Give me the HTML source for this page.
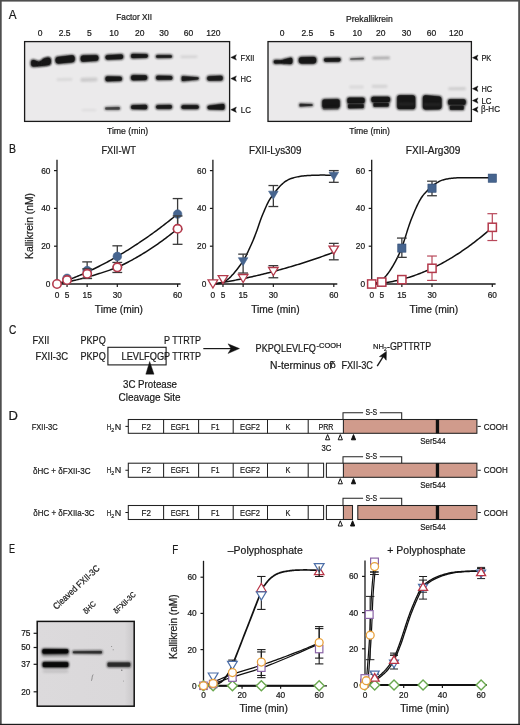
<!DOCTYPE html><html><head><meta charset="utf-8"><style>html,body{margin:0;padding:0;background:#fff;overflow:hidden}svg{display:block;will-change:transform}text{font-family:"Liberation Sans",sans-serif}</style></head><body><svg width="520" height="725" viewBox="0 0 520 725" font-family="Liberation Sans, sans-serif"><defs><filter id="b4" filterUnits="userSpaceOnUse" x="0" y="0" width="520" height="725"><feGaussianBlur stdDeviation="0.4"/></filter><filter id="b5" filterUnits="userSpaceOnUse" x="0" y="0" width="520" height="725"><feGaussianBlur stdDeviation="0.5"/></filter><filter id="b6" filterUnits="userSpaceOnUse" x="0" y="0" width="520" height="725"><feGaussianBlur stdDeviation="0.6"/></filter><filter id="b7" filterUnits="userSpaceOnUse" x="0" y="0" width="520" height="725"><feGaussianBlur stdDeviation="0.7"/></filter><filter id="b8" filterUnits="userSpaceOnUse" x="0" y="0" width="520" height="725"><feGaussianBlur stdDeviation="0.8"/></filter><filter id="b9" filterUnits="userSpaceOnUse" x="0" y="0" width="520" height="725"><feGaussianBlur stdDeviation="0.9"/></filter><filter id="b10" filterUnits="userSpaceOnUse" x="0" y="0" width="520" height="725"><feGaussianBlur stdDeviation="1.0"/></filter><filter id="b12" filterUnits="userSpaceOnUse" x="0" y="0" width="520" height="725"><feGaussianBlur stdDeviation="1.2"/></filter></defs><rect x="0.00" y="0.00" width="520.00" height="725.00" fill="#ffffff" stroke="none" stroke-width="1"/>
<text x="8.70" y="18.60" font-size="13.2" textLength="7.80" lengthAdjust="spacingAndGlyphs" fill="#1a1a1a" stroke="#1a1a1a" stroke-width="0.22">A</text>
<rect x="24.60" y="41.60" width="205.00" height="79.80" fill="#ebeaeb" stroke="#1a1a1a" stroke-width="1.3"/>
<text x="116.30" y="19.90" font-size="9.0" textLength="35.80" lengthAdjust="spacingAndGlyphs" fill="#1a1a1a" stroke="#1a1a1a" stroke-width="0.22">Factor XII</text>
<text x="40.00" y="36.40" font-size="8.5" text-anchor="middle" fill="#1a1a1a" stroke="#1a1a1a" stroke-width="0.22">0</text>
<text x="64.60" y="36.40" font-size="8.5" text-anchor="middle" fill="#1a1a1a" stroke="#1a1a1a" stroke-width="0.22">2.5</text>
<text x="89.30" y="36.40" font-size="8.5" text-anchor="middle" fill="#1a1a1a" stroke="#1a1a1a" stroke-width="0.22">5</text>
<text x="114.00" y="36.40" font-size="8.5" text-anchor="middle" fill="#1a1a1a" stroke="#1a1a1a" stroke-width="0.22">10</text>
<text x="139.80" y="36.40" font-size="8.5" text-anchor="middle" fill="#1a1a1a" stroke="#1a1a1a" stroke-width="0.22">20</text>
<text x="164.00" y="36.40" font-size="8.5" text-anchor="middle" fill="#1a1a1a" stroke="#1a1a1a" stroke-width="0.22">30</text>
<text x="188.50" y="36.40" font-size="8.5" text-anchor="middle" fill="#1a1a1a" stroke="#1a1a1a" stroke-width="0.22">60</text>
<text x="213.40" y="36.40" font-size="8.5" text-anchor="middle" fill="#1a1a1a" stroke="#1a1a1a" stroke-width="0.22">120</text>
<path d="M33.30,62.10 L37.70,63.70 L37.70,64.10 L33.30,64.40 Z" fill="#161616" stroke="#161616" stroke-width="5.70" stroke-linejoin="round" opacity="1.000" filter="url(#b8)"/>
<path d="M33.30,62.10 L37.70,63.70 L37.70,64.10 L33.30,64.40 Z" fill="#161616" stroke="#161616" stroke-width="4.30" stroke-linejoin="round" opacity="0.850"/>
<path d="M40.45,63.25 L48.35,59.85 L48.35,62.75 L40.45,64.15 Z" fill="#161616" stroke="#161616" stroke-width="5.20" stroke-linejoin="round" opacity="1.000" filter="url(#b8)"/>
<path d="M40.45,63.25 L48.35,59.85 L48.35,62.75 L40.45,64.15 Z" fill="#161616" stroke="#161616" stroke-width="3.80" stroke-linejoin="round" opacity="0.850"/>
<path d="M44.50,60.90 L48.10,60.10 L48.10,62.50 L44.50,62.90 Z" fill="#161616" stroke="#161616" stroke-width="5.70" stroke-linejoin="round" opacity="1.000" filter="url(#b8)"/>
<path d="M44.50,60.90 L48.10,60.10 L48.10,62.50 L44.50,62.90 Z" fill="#161616" stroke="#161616" stroke-width="4.30" stroke-linejoin="round" opacity="0.850"/>
<path d="M58.26,59.66 L71.94,58.06 L71.94,59.54 L58.26,60.74 Z" fill="#161616" stroke="#161616" stroke-width="6.82" stroke-linejoin="round" opacity="1.000" filter="url(#b8)"/>
<path d="M58.26,59.66 L71.94,58.06 L71.94,59.54 L58.26,60.74 Z" fill="#161616" stroke="#161616" stroke-width="5.42" stroke-linejoin="round" opacity="0.850"/>
<path d="M83.12,57.92 L95.98,57.52 L95.98,58.48 L83.12,59.28 Z" fill="#161616" stroke="#161616" stroke-width="6.14" stroke-linejoin="round" opacity="1.000" filter="url(#b8)"/>
<path d="M83.12,57.92 L95.98,57.52 L95.98,58.48 L83.12,59.28 Z" fill="#161616" stroke="#161616" stroke-width="4.74" stroke-linejoin="round" opacity="0.850"/>
<path d="M107.33,56.92 L121.28,56.33 L121.28,57.27 L107.33,57.67 Z" fill="#161616" stroke="#161616" stroke-width="4.95" stroke-linejoin="round" opacity="1.000" filter="url(#b8)"/>
<path d="M107.33,56.92 L121.28,56.33 L121.28,57.27 L107.33,57.67 Z" fill="#161616" stroke="#161616" stroke-width="3.55" stroke-linejoin="round" opacity="0.850"/>
<path d="M132.59,55.38 L146.31,55.58 L146.31,56.22 L132.59,56.62 Z" fill="#161616" stroke="#161616" stroke-width="4.27" stroke-linejoin="round" opacity="1.000" filter="url(#b8)"/>
<path d="M132.59,55.39 L146.31,55.59 L146.31,56.21 L132.59,56.61 Z" fill="#161616" stroke="#161616" stroke-width="2.87" stroke-linejoin="round" opacity="0.850"/>
<path d="M157.16,56.16 L170.84,56.16 L170.84,56.64 L157.16,56.84 Z" fill="#161616" stroke="#161616" stroke-width="3.42" stroke-linejoin="round" opacity="0.950" filter="url(#b8)"/>
<path d="M157.16,56.16 L170.84,56.16 L170.84,56.64 L157.16,56.84 Z" fill="#161616" stroke="#161616" stroke-width="2.02" stroke-linejoin="round" opacity="0.807"/>
<path d="M181.52,56.62 L196.48,56.62 L196.48,56.88 L181.52,57.08 Z" fill="#161616" stroke="#161616" stroke-width="2.15" stroke-linejoin="round" opacity="0.100" filter="url(#b8)"/>
<path d="M57.82,79.42 L71.18,79.22 L71.18,79.58 L57.82,79.78 Z" fill="#161616" stroke="#161616" stroke-width="2.74" stroke-linejoin="round" opacity="0.070" filter="url(#b8)"/>
<path d="M82.25,79.45 L95.75,79.25 L95.75,79.75 L82.25,80.15 Z" fill="#161616" stroke="#161616" stroke-width="3.59" stroke-linejoin="round" opacity="0.140" filter="url(#b8)"/>
<path d="M107.24,78.24 L120.16,78.44 L120.16,79.16 L107.24,79.56 Z" fill="#161616" stroke="#161616" stroke-width="4.78" stroke-linejoin="round" opacity="1.000" filter="url(#b8)"/>
<path d="M107.24,78.24 L120.16,78.44 L120.16,79.16 L107.24,79.56 Z" fill="#161616" stroke="#161616" stroke-width="3.38" stroke-linejoin="round" opacity="0.850"/>
<path d="M133.10,77.09 L145.20,77.30 L145.20,78.11 L133.10,78.30 Z" fill="#161616" stroke="#161616" stroke-width="5.29" stroke-linejoin="round" opacity="1.000" filter="url(#b8)"/>
<path d="M133.09,77.09 L145.21,77.30 L145.21,78.11 L133.09,78.30 Z" fill="#161616" stroke="#161616" stroke-width="3.89" stroke-linejoin="round" opacity="0.850"/>
<path d="M157.67,77.27 L170.83,77.47 L170.83,78.13 L157.67,78.33 Z" fill="#161616" stroke="#161616" stroke-width="4.44" stroke-linejoin="round" opacity="0.950" filter="url(#b8)"/>
<path d="M157.67,77.27 L170.83,77.47 L170.83,78.13 L157.67,78.33 Z" fill="#161616" stroke="#161616" stroke-width="3.04" stroke-linejoin="round" opacity="0.807"/>
<path d="M182.59,77.09 L197.81,78.19 L197.81,78.61 L182.59,80.11 Z" fill="#161616" stroke="#161616" stroke-width="3.08" stroke-linejoin="round" opacity="0.920" filter="url(#b8)"/>
<path d="M182.59,77.09 L197.81,78.19 L197.81,78.61 L182.59,80.11 Z" fill="#161616" stroke="#161616" stroke-width="1.68" stroke-linejoin="round" opacity="0.782"/>
<path d="M209.01,78.01 L220.89,77.61 L220.89,78.59 L209.01,78.79 Z" fill="#161616" stroke="#161616" stroke-width="5.12" stroke-linejoin="round" opacity="0.920" filter="url(#b8)"/>
<path d="M209.01,78.01 L220.89,77.61 L220.89,78.59 L209.01,78.79 Z" fill="#161616" stroke="#161616" stroke-width="3.72" stroke-linejoin="round" opacity="0.782"/>
<path d="M82.59,110.00 L95.41,110.00 L95.41,110.20 L82.59,110.20 Z" fill="#161616" stroke="#161616" stroke-width="1.89" stroke-linejoin="round" opacity="0.060" filter="url(#b8)"/>
<path d="M106.08,108.28 L118.92,107.88 L118.92,108.72 L106.08,108.72 Z" fill="#161616" stroke="#161616" stroke-width="3.25" stroke-linejoin="round" opacity="0.620" filter="url(#b8)"/>
<path d="M106.07,108.27 L118.93,107.87 L118.93,108.73 L106.07,108.73 Z" fill="#161616" stroke="#161616" stroke-width="1.85" stroke-linejoin="round" opacity="0.527"/>
<path d="M132.71,106.81 L145.59,106.41 L145.59,107.69 L132.71,107.49 Z" fill="#161616" stroke="#161616" stroke-width="4.52" stroke-linejoin="round" opacity="0.970" filter="url(#b8)"/>
<path d="M132.71,106.81 L145.59,106.41 L145.59,107.69 L132.71,107.49 Z" fill="#161616" stroke="#161616" stroke-width="3.12" stroke-linejoin="round" opacity="0.825"/>
<path d="M157.63,106.73 L170.37,106.53 L170.37,107.37 L157.63,107.37 Z" fill="#161616" stroke="#161616" stroke-width="4.35" stroke-linejoin="round" opacity="0.950" filter="url(#b8)"/>
<path d="M157.63,106.73 L170.37,106.53 L170.37,107.37 L157.63,107.37 Z" fill="#161616" stroke="#161616" stroke-width="2.95" stroke-linejoin="round" opacity="0.807"/>
<path d="M183.07,106.67 L197.13,106.67 L197.13,107.33 L183.07,107.33 Z" fill="#161616" stroke="#161616" stroke-width="4.44" stroke-linejoin="round" opacity="1.000" filter="url(#b8)"/>
<path d="M183.07,106.67 L197.13,106.67 L197.13,107.33 L183.07,107.33 Z" fill="#161616" stroke="#161616" stroke-width="3.04" stroke-linejoin="round" opacity="0.850"/>
<path d="M209.03,107.13 L222.97,105.53 L222.97,108.17 L209.03,107.77 Z" fill="#161616" stroke="#161616" stroke-width="4.35" stroke-linejoin="round" opacity="1.000" filter="url(#b8)"/>
<path d="M209.03,107.13 L222.97,105.53 L222.97,108.17 L209.03,107.77 Z" fill="#161616" stroke="#161616" stroke-width="2.95" stroke-linejoin="round" opacity="0.850"/>
<path d="M230.80,57.40 L236.40,54.70 L235.30,57.40 L236.40,60.10 Z" fill="#111" stroke="#111" stroke-width="0.4" stroke-linejoin="round"/>
<path d="M230.80,78.60 L236.40,75.90 L235.30,78.60 L236.40,81.30 Z" fill="#111" stroke="#111" stroke-width="0.4" stroke-linejoin="round"/>
<path d="M230.80,109.70 L236.40,107.00 L235.30,109.70 L236.40,112.40 Z" fill="#111" stroke="#111" stroke-width="0.4" stroke-linejoin="round"/>
<text x="240.60" y="60.90" font-size="9.2" textLength="13.80" lengthAdjust="spacingAndGlyphs" fill="#1a1a1a" stroke="#1a1a1a" stroke-width="0.22">FXII</text>
<text x="240.60" y="81.90" font-size="9.2" textLength="10.90" lengthAdjust="spacingAndGlyphs" fill="#1a1a1a" stroke="#1a1a1a" stroke-width="0.22">HC</text>
<text x="240.80" y="113.00" font-size="9.2" textLength="10.10" lengthAdjust="spacingAndGlyphs" fill="#1a1a1a" stroke="#1a1a1a" stroke-width="0.22">LC</text>
<text x="106.90" y="134.30" font-size="9.0" textLength="41.30" lengthAdjust="spacingAndGlyphs" fill="#1a1a1a" stroke="#1a1a1a" stroke-width="0.22">Time (min)</text>
<rect x="268.00" y="41.60" width="203.40" height="79.80" fill="#ebeaeb" stroke="#1a1a1a" stroke-width="1.3"/>
<text x="346.00" y="22.10" font-size="9.0" textLength="46.80" lengthAdjust="spacingAndGlyphs" fill="#1a1a1a" stroke="#1a1a1a" stroke-width="0.22">Prekallikrein</text>
<text x="282.20" y="36.40" font-size="8.5" text-anchor="middle" fill="#1a1a1a" stroke="#1a1a1a" stroke-width="0.22">0</text>
<text x="307.30" y="36.40" font-size="8.5" text-anchor="middle" fill="#1a1a1a" stroke="#1a1a1a" stroke-width="0.22">2.5</text>
<text x="332.00" y="36.40" font-size="8.5" text-anchor="middle" fill="#1a1a1a" stroke="#1a1a1a" stroke-width="0.22">5</text>
<text x="357.30" y="36.40" font-size="8.5" text-anchor="middle" fill="#1a1a1a" stroke="#1a1a1a" stroke-width="0.22">10</text>
<text x="380.80" y="36.40" font-size="8.5" text-anchor="middle" fill="#1a1a1a" stroke="#1a1a1a" stroke-width="0.22">20</text>
<text x="406.50" y="36.40" font-size="8.5" text-anchor="middle" fill="#1a1a1a" stroke="#1a1a1a" stroke-width="0.22">30</text>
<text x="431.50" y="36.40" font-size="8.5" text-anchor="middle" fill="#1a1a1a" stroke="#1a1a1a" stroke-width="0.22">60</text>
<text x="456.20" y="36.40" font-size="8.5" text-anchor="middle" fill="#1a1a1a" stroke="#1a1a1a" stroke-width="0.22">120</text>
<path d="M275.03,61.33 L283.47,61.53 L283.47,62.07 L275.03,62.27 Z" fill="#161616" stroke="#161616" stroke-width="3.76" stroke-linejoin="round" opacity="1.000" filter="url(#b8)"/>
<path d="M275.03,61.33 L283.47,61.53 L283.47,62.07 L275.03,62.27 Z" fill="#161616" stroke="#161616" stroke-width="2.36" stroke-linejoin="round" opacity="0.850"/>
<path d="M284.54,61.04 L290.66,59.44 L290.66,62.36 L284.54,61.76 Z" fill="#161616" stroke="#161616" stroke-width="4.78" stroke-linejoin="round" opacity="1.000" filter="url(#b8)"/>
<path d="M284.54,61.04 L290.66,59.44 L290.66,62.36 L284.54,61.76 Z" fill="#161616" stroke="#161616" stroke-width="3.38" stroke-linejoin="round" opacity="0.850"/>
<path d="M301.47,59.77 L313.53,59.58 L313.53,60.82 L301.47,60.82 Z" fill="#161616" stroke="#161616" stroke-width="6.65" stroke-linejoin="round" opacity="1.000" filter="url(#b8)"/>
<path d="M301.48,59.77 L313.52,59.58 L313.52,60.82 L301.48,60.82 Z" fill="#161616" stroke="#161616" stroke-width="5.25" stroke-linejoin="round" opacity="0.850"/>
<path d="M325.58,59.58 L339.02,59.38 L339.02,60.02 L325.58,60.22 Z" fill="#161616" stroke="#161616" stroke-width="4.27" stroke-linejoin="round" opacity="1.000" filter="url(#b8)"/>
<path d="M325.59,59.58 L339.01,59.38 L339.01,60.02 L325.59,60.22 Z" fill="#161616" stroke="#161616" stroke-width="2.87" stroke-linejoin="round" opacity="0.850"/>
<path d="M350.74,58.94 L363.26,58.34 L363.26,58.86 L350.74,59.27 Z" fill="#161616" stroke="#161616" stroke-width="2.57" stroke-linejoin="round" opacity="0.500" filter="url(#b8)"/>
<path d="M350.74,58.94 L363.26,58.34 L363.26,58.86 L350.74,59.27 Z" fill="#161616" stroke="#161616" stroke-width="1.17" stroke-linejoin="round" opacity="0.425"/>
<path d="M373.55,57.95 L388.75,57.75 L388.75,58.15 L373.55,58.25 Z" fill="#161616" stroke="#161616" stroke-width="2.40" stroke-linejoin="round" opacity="0.300" filter="url(#b8)"/>
<path d="M350.52,86.82 L362.48,86.82 L362.48,87.18 L350.52,87.18 Z" fill="#161616" stroke="#161616" stroke-width="2.74" stroke-linejoin="round" opacity="0.080" filter="url(#b8)"/>
<path d="M373.02,86.22 L386.18,86.22 L386.18,86.58 L373.02,86.58 Z" fill="#161616" stroke="#161616" stroke-width="2.74" stroke-linejoin="round" opacity="0.100" filter="url(#b8)"/>
<path d="M449.52,88.62 L464.48,88.42 L464.48,88.98 L449.52,88.98 Z" fill="#161616" stroke="#161616" stroke-width="2.74" stroke-linejoin="round" opacity="0.130" filter="url(#b8)"/>
<path d="M300.13,104.23 L312.07,104.84 L312.07,105.16 L300.13,105.97 Z" fill="#161616" stroke="#161616" stroke-width="2.57" stroke-linejoin="round" opacity="0.780" filter="url(#b8)"/>
<path d="M300.13,104.23 L312.06,104.83 L312.06,105.17 L300.13,105.97 Z" fill="#161616" stroke="#161616" stroke-width="1.17" stroke-linejoin="round" opacity="0.663"/>
<path d="M324.50,101.70 L337.50,101.40 L337.50,105.70 L324.50,105.90 Z" fill="#161616" stroke="#161616" stroke-width="5.70" stroke-linejoin="round" opacity="1.000" filter="url(#b8)"/>
<path d="M324.50,101.70 L337.50,101.40 L337.50,105.70 L324.50,105.90 Z" fill="#161616" stroke="#161616" stroke-width="4.30" stroke-linejoin="round" opacity="0.850"/>
<path d="M323.90,107.90 L337.60,107.90 L337.60,108.40 L323.90,108.80 Z" fill="#161616" stroke="#161616" stroke-width="3.50" stroke-linejoin="round" opacity="0.350" filter="url(#b8)"/>
<path d="M323.90,107.90 L337.60,107.90 L337.60,108.40 L323.90,108.80 Z" fill="#161616" stroke="#161616" stroke-width="2.10" stroke-linejoin="round" opacity="0.297"/>
<path d="M349.25,99.65 L362.75,99.65 L362.75,101.25 L349.25,101.45 Z" fill="#161616" stroke="#161616" stroke-width="5.20" stroke-linejoin="round" opacity="1.000" filter="url(#b8)"/>
<path d="M349.25,99.65 L362.75,99.65 L362.75,101.25 L349.25,101.45 Z" fill="#161616" stroke="#161616" stroke-width="3.80" stroke-linejoin="round" opacity="0.850"/>
<path d="M348.80,104.90 L363.00,104.90 L363.00,107.40 L348.80,107.60 Z" fill="#161616" stroke="#161616" stroke-width="2.70" stroke-linejoin="round" opacity="1.000" filter="url(#b8)"/>
<path d="M348.80,104.90 L363.00,104.90 L363.00,107.40 L348.80,107.60 Z" fill="#161616" stroke="#161616" stroke-width="1.30" stroke-linejoin="round" opacity="0.850"/>
<path d="M373.25,98.75 L388.05,98.75 L388.05,100.15 L373.25,100.25 Z" fill="#161616" stroke="#161616" stroke-width="5.20" stroke-linejoin="round" opacity="1.000" filter="url(#b8)"/>
<path d="M373.25,98.75 L388.05,98.75 L388.05,100.15 L373.25,100.25 Z" fill="#161616" stroke="#161616" stroke-width="3.80" stroke-linejoin="round" opacity="0.850"/>
<path d="M374.20,103.70 L388.00,103.70 L388.00,105.80 L374.20,106.00 Z" fill="#161616" stroke="#161616" stroke-width="2.70" stroke-linejoin="round" opacity="1.000" filter="url(#b8)"/>
<path d="M374.20,103.70 L388.00,103.70 L388.00,105.80 L374.20,106.00 Z" fill="#161616" stroke="#161616" stroke-width="1.30" stroke-linejoin="round" opacity="0.850"/>
<path d="M399.90,98.00 L412.50,98.00 L412.50,106.40 L399.90,106.40 Z" fill="#161616" stroke="#161616" stroke-width="6.70" stroke-linejoin="round" opacity="1.000" filter="url(#b8)"/>
<path d="M399.90,98.00 L412.50,98.00 L412.50,106.40 L399.90,106.40 Z" fill="#161616" stroke="#161616" stroke-width="5.30" stroke-linejoin="round" opacity="0.850"/>
<path d="M398.84,103.94 L413.66,103.94 L413.66,104.06 L398.84,104.06 Z" fill="#777" stroke="#777" stroke-width="1.38" stroke-linejoin="round" opacity="0.250" filter="url(#b8)"/>
<path d="M425.60,98.00 L438.80,99.20 L438.80,106.60 L425.60,106.80 Z" fill="#161616" stroke="#161616" stroke-width="6.70" stroke-linejoin="round" opacity="1.000" filter="url(#b8)"/>
<path d="M425.60,98.00 L438.80,99.20 L438.80,106.60 L425.60,106.80 Z" fill="#161616" stroke="#161616" stroke-width="5.30" stroke-linejoin="round" opacity="0.850"/>
<path d="M424.34,104.34 L440.16,104.34 L440.16,104.46 L424.34,104.46 Z" fill="#777" stroke="#777" stroke-width="1.38" stroke-linejoin="round" opacity="0.250" filter="url(#b8)"/>
<path d="M450.05,101.25 L463.75,101.25 L463.75,102.95 L450.05,102.95 Z" fill="#161616" stroke="#161616" stroke-width="5.20" stroke-linejoin="round" opacity="1.000" filter="url(#b8)"/>
<path d="M450.05,101.25 L463.75,101.25 L463.75,102.95 L450.05,102.95 Z" fill="#161616" stroke="#161616" stroke-width="3.80" stroke-linejoin="round" opacity="0.850"/>
<path d="M450.60,106.30 L463.00,106.30 L463.00,109.00 L450.60,109.00 Z" fill="#161616" stroke="#161616" stroke-width="2.70" stroke-linejoin="round" opacity="1.000" filter="url(#b8)"/>
<path d="M450.60,106.30 L463.00,106.30 L463.00,109.00 L450.60,109.00 Z" fill="#161616" stroke="#161616" stroke-width="1.30" stroke-linejoin="round" opacity="0.850"/>
<path d="M472.40,57.70 L478.00,55.00 L476.90,57.70 L478.00,60.40 Z" fill="#111" stroke="#111" stroke-width="0.4" stroke-linejoin="round"/>
<path d="M472.40,88.70 L478.00,86.00 L476.90,88.70 L478.00,91.40 Z" fill="#111" stroke="#111" stroke-width="0.4" stroke-linejoin="round"/>
<path d="M472.40,100.60 L478.00,97.90 L476.90,100.60 L478.00,103.30 Z" fill="#111" stroke="#111" stroke-width="0.4" stroke-linejoin="round"/>
<path d="M472.40,109.50 L478.00,106.80 L476.90,109.50 L478.00,112.20 Z" fill="#111" stroke="#111" stroke-width="0.4" stroke-linejoin="round"/>
<text x="481.40" y="60.60" font-size="9.0" textLength="9.90" lengthAdjust="spacingAndGlyphs" fill="#1a1a1a" stroke="#1a1a1a" stroke-width="0.22">PK</text>
<text x="481.40" y="92.00" font-size="9.0" textLength="10.60" lengthAdjust="spacingAndGlyphs" fill="#1a1a1a" stroke="#1a1a1a" stroke-width="0.22">HC</text>
<text x="481.40" y="103.60" font-size="9.0" textLength="10.00" lengthAdjust="spacingAndGlyphs" fill="#1a1a1a" stroke="#1a1a1a" stroke-width="0.22">LC</text>
<text x="481.00" y="112.40" font-size="9.0" textLength="19.00" lengthAdjust="spacingAndGlyphs" fill="#1a1a1a" stroke="#1a1a1a" stroke-width="0.22">&#946;-HC</text>
<text x="349.20" y="134.30" font-size="9.0" textLength="40.80" lengthAdjust="spacingAndGlyphs" fill="#1a1a1a" stroke="#1a1a1a" stroke-width="0.22">Time (min)</text>
<text x="8.90" y="153.10" font-size="12.4" textLength="7.00" lengthAdjust="spacingAndGlyphs" fill="#1a1a1a" stroke="#1a1a1a" stroke-width="0.22">B</text>
<line x1="57.00" y1="159.80" x2="57.00" y2="284.60" stroke="#1a1a1a" stroke-width="1.3"/>
<line x1="56.40" y1="284.00" x2="180.60" y2="284.00" stroke="#1a1a1a" stroke-width="1.3"/>
<line x1="54.00" y1="284.00" x2="57.00" y2="284.00" stroke="#1a1a1a" stroke-width="1.2"/>
<text x="50.40" y="286.90" font-size="8.3" text-anchor="end" fill="#1a1a1a" stroke="#1a1a1a" stroke-width="0.22">0</text>
<line x1="54.00" y1="246.20" x2="57.00" y2="246.20" stroke="#1a1a1a" stroke-width="1.2"/>
<text x="50.40" y="249.10" font-size="8.3" text-anchor="end" fill="#1a1a1a" stroke="#1a1a1a" stroke-width="0.22">20</text>
<line x1="54.00" y1="208.40" x2="57.00" y2="208.40" stroke="#1a1a1a" stroke-width="1.2"/>
<text x="50.40" y="211.30" font-size="8.3" text-anchor="end" fill="#1a1a1a" stroke="#1a1a1a" stroke-width="0.22">40</text>
<line x1="54.00" y1="170.60" x2="57.00" y2="170.60" stroke="#1a1a1a" stroke-width="1.2"/>
<text x="50.40" y="173.50" font-size="8.3" text-anchor="end" fill="#1a1a1a" stroke="#1a1a1a" stroke-width="0.22">60</text>
<text x="57.00" y="298.00" font-size="8.3" text-anchor="middle" fill="#1a1a1a" stroke="#1a1a1a" stroke-width="0.22">0</text>
<line x1="67.05" y1="284.00" x2="67.05" y2="287.00" stroke="#1a1a1a" stroke-width="1.2"/>
<text x="67.05" y="298.00" font-size="8.3" text-anchor="middle" fill="#1a1a1a" stroke="#1a1a1a" stroke-width="0.22">5</text>
<line x1="87.15" y1="284.00" x2="87.15" y2="287.00" stroke="#1a1a1a" stroke-width="1.2"/>
<text x="87.15" y="298.00" font-size="8.3" text-anchor="middle" fill="#1a1a1a" stroke="#1a1a1a" stroke-width="0.22">15</text>
<line x1="117.30" y1="284.00" x2="117.30" y2="287.00" stroke="#1a1a1a" stroke-width="1.2"/>
<text x="117.30" y="298.00" font-size="8.3" text-anchor="middle" fill="#1a1a1a" stroke="#1a1a1a" stroke-width="0.22">30</text>
<line x1="177.60" y1="284.00" x2="177.60" y2="287.00" stroke="#1a1a1a" stroke-width="1.2"/>
<text x="177.60" y="298.00" font-size="8.3" text-anchor="middle" fill="#1a1a1a" stroke="#1a1a1a" stroke-width="0.22">60</text>
<text x="101.40" y="154.00" font-size="10.8" textLength="34.60" lengthAdjust="spacingAndGlyphs" fill="#1a1a1a" stroke="#1a1a1a" stroke-width="0.22">FXII-WT</text>
<text x="94.80" y="312.60" font-size="10.6" textLength="48.20" lengthAdjust="spacingAndGlyphs" fill="#1a1a1a" stroke="#1a1a1a" stroke-width="0.22">Time (min)</text>
<text x="33.50" y="258.90" font-size="10.3" textLength="65.80" lengthAdjust="spacingAndGlyphs" transform="rotate(-90 33.5 258.9)" fill="#1a1a1a" stroke="#1a1a1a" stroke-width="0.22">Kallikrein (nM)</text>
<polyline points="57.00,284.00 58.51,283.49 60.02,282.97 61.52,282.44 63.03,281.90 64.54,281.35 66.05,280.80 67.55,280.23 69.06,279.66 70.57,279.07 72.08,278.48 73.58,277.88 75.09,277.26 76.60,276.64 78.10,276.01 79.61,275.37 81.12,274.72 82.63,274.07 84.13,273.40 85.64,272.72 87.15,272.04 88.66,271.34 90.16,270.64 91.67,269.93 93.18,269.20 94.69,268.47 96.19,267.73 97.70,266.98 99.21,266.22 100.72,265.45 102.22,264.68 103.73,263.89 105.24,263.09 106.75,262.29 108.25,261.47 109.76,260.65 111.27,259.82 112.78,258.97 114.28,258.12 115.79,257.26 117.30,256.39 118.81,255.51 120.31,254.63 121.82,253.73 123.33,252.82 124.84,251.91 126.34,250.98 127.85,250.05 129.36,249.10 130.87,248.15 132.38,247.19 133.88,246.22 135.39,245.24 136.90,244.25 138.40,243.25 139.91,242.24 141.42,241.23 142.93,240.20 144.44,239.16 145.94,238.12 147.45,237.07 148.96,236.00 150.46,234.93 151.97,233.85 153.48,232.76 154.99,231.66 156.50,230.55 158.00,229.43 159.51,228.30 161.02,227.17 162.52,226.02 164.03,224.87 165.54,223.70 167.05,222.53 168.56,221.34 170.06,220.15 171.57,218.95 173.08,217.74 174.58,216.52 176.09,215.29 177.60,214.05" fill="none" stroke="#111" stroke-width="1.5" stroke-linejoin="round" stroke-linecap="round"/>
<polyline points="57.00,284.00 58.51,283.73 60.02,283.45 61.52,283.16 63.03,282.86 64.54,282.56 66.05,282.25 67.55,281.94 69.06,281.61 70.57,281.28 72.08,280.94 73.58,280.59 75.09,280.24 76.60,279.88 78.10,279.51 79.61,279.14 81.12,278.75 82.63,278.36 84.13,277.97 85.64,277.56 87.15,277.15 88.66,276.73 90.16,276.30 91.67,275.87 93.18,275.43 94.69,274.98 96.19,274.53 97.70,274.06 99.21,273.59 100.72,273.11 102.22,272.63 103.73,272.14 105.24,271.64 106.75,271.13 108.25,270.62 109.76,270.09 111.27,269.56 112.78,269.03 114.28,268.48 115.79,267.93 117.30,267.38 118.81,266.68 120.31,265.97 121.82,265.25 123.33,264.51 124.84,263.76 126.34,262.99 127.85,262.21 129.36,261.42 130.87,260.62 132.38,259.80 133.88,258.96 135.39,258.12 136.90,257.26 138.40,256.38 139.91,255.49 141.42,254.59 142.93,253.68 144.44,252.75 145.94,251.80 147.45,250.85 148.96,249.88 150.46,248.89 151.97,247.90 153.48,246.88 154.99,245.86 156.50,244.82 158.00,243.77 159.51,242.70 161.02,241.62 162.52,240.53 164.03,239.42 165.54,238.30 167.05,237.17 168.56,236.02 170.06,234.86 171.57,233.68 173.08,232.49 174.58,231.29 176.09,230.07 177.60,228.84" fill="none" stroke="#111" stroke-width="1.5" stroke-linejoin="round" stroke-linecap="round"/>
<line x1="87.15" y1="261.89" x2="87.15" y2="278.33" stroke="#3a3a3a" stroke-width="1.3"/>
<line x1="82.25" y1="261.89" x2="92.05" y2="261.89" stroke="#3a3a3a" stroke-width="1.3"/>
<line x1="82.25" y1="278.33" x2="92.05" y2="278.33" stroke="#3a3a3a" stroke-width="1.3"/>
<line x1="117.30" y1="245.82" x2="117.30" y2="266.99" stroke="#3a3a3a" stroke-width="1.3"/>
<line x1="112.40" y1="245.82" x2="122.20" y2="245.82" stroke="#3a3a3a" stroke-width="1.3"/>
<line x1="112.40" y1="266.99" x2="122.20" y2="266.99" stroke="#3a3a3a" stroke-width="1.3"/>
<line x1="177.60" y1="198.57" x2="177.60" y2="229.19" stroke="#3a3a3a" stroke-width="1.3"/>
<line x1="172.70" y1="198.57" x2="182.50" y2="198.57" stroke="#3a3a3a" stroke-width="1.3"/>
<line x1="172.70" y1="229.19" x2="182.50" y2="229.19" stroke="#3a3a3a" stroke-width="1.3"/>
<circle cx="67.05" cy="278.33" r="4.3" fill="#46648e" stroke="#46648e" stroke-width="0.6"/>
<circle cx="87.15" cy="270.58" r="4.3" fill="#46648e" stroke="#46648e" stroke-width="0.6"/>
<circle cx="117.30" cy="256.41" r="4.3" fill="#46648e" stroke="#46648e" stroke-width="0.6"/>
<circle cx="177.60" cy="214.07" r="4.3" fill="#46648e" stroke="#46648e" stroke-width="0.6"/>
<line x1="87.15" y1="268.88" x2="87.15" y2="278.52" stroke="#3a3a3a" stroke-width="1.3"/>
<line x1="82.25" y1="268.88" x2="92.05" y2="268.88" stroke="#3a3a3a" stroke-width="1.3"/>
<line x1="82.25" y1="278.52" x2="92.05" y2="278.52" stroke="#3a3a3a" stroke-width="1.3"/>
<line x1="117.30" y1="262.45" x2="117.30" y2="272.47" stroke="#3a3a3a" stroke-width="1.3"/>
<line x1="112.40" y1="262.45" x2="122.20" y2="262.45" stroke="#3a3a3a" stroke-width="1.3"/>
<line x1="112.40" y1="272.47" x2="122.20" y2="272.47" stroke="#3a3a3a" stroke-width="1.3"/>
<line x1="177.60" y1="215.96" x2="177.60" y2="244.31" stroke="#3a3a3a" stroke-width="1.3"/>
<line x1="172.70" y1="215.96" x2="182.50" y2="215.96" stroke="#3a3a3a" stroke-width="1.3"/>
<line x1="172.70" y1="244.31" x2="182.50" y2="244.31" stroke="#3a3a3a" stroke-width="1.3"/>
<circle cx="57.00" cy="284.00" r="4.2" fill="#fff" stroke="#b43a4c" stroke-width="1.6"/>
<circle cx="67.05" cy="280.03" r="4.2" fill="#fff" stroke="#b43a4c" stroke-width="1.6"/>
<circle cx="87.15" cy="273.79" r="4.2" fill="#fff" stroke="#b43a4c" stroke-width="1.6"/>
<circle cx="117.30" cy="267.37" r="4.2" fill="#fff" stroke="#b43a4c" stroke-width="1.6"/>
<circle cx="177.60" cy="228.81" r="4.2" fill="#fff" stroke="#b43a4c" stroke-width="1.6"/>
<line x1="212.90" y1="159.80" x2="212.90" y2="284.60" stroke="#1a1a1a" stroke-width="1.3"/>
<line x1="212.30" y1="284.00" x2="337.30" y2="284.00" stroke="#1a1a1a" stroke-width="1.3"/>
<line x1="209.90" y1="284.00" x2="212.90" y2="284.00" stroke="#1a1a1a" stroke-width="1.2"/>
<text x="206.30" y="286.90" font-size="8.3" text-anchor="end" fill="#1a1a1a" stroke="#1a1a1a" stroke-width="0.22">0</text>
<line x1="209.90" y1="246.20" x2="212.90" y2="246.20" stroke="#1a1a1a" stroke-width="1.2"/>
<text x="206.30" y="249.10" font-size="8.3" text-anchor="end" fill="#1a1a1a" stroke="#1a1a1a" stroke-width="0.22">20</text>
<line x1="209.90" y1="208.40" x2="212.90" y2="208.40" stroke="#1a1a1a" stroke-width="1.2"/>
<text x="206.30" y="211.30" font-size="8.3" text-anchor="end" fill="#1a1a1a" stroke="#1a1a1a" stroke-width="0.22">40</text>
<line x1="209.90" y1="170.60" x2="212.90" y2="170.60" stroke="#1a1a1a" stroke-width="1.2"/>
<text x="206.30" y="173.50" font-size="8.3" text-anchor="end" fill="#1a1a1a" stroke="#1a1a1a" stroke-width="0.22">60</text>
<text x="212.90" y="298.00" font-size="8.3" text-anchor="middle" fill="#1a1a1a" stroke="#1a1a1a" stroke-width="0.22">0</text>
<line x1="222.97" y1="284.00" x2="222.97" y2="287.00" stroke="#1a1a1a" stroke-width="1.2"/>
<text x="222.97" y="298.00" font-size="8.3" text-anchor="middle" fill="#1a1a1a" stroke="#1a1a1a" stroke-width="0.22">5</text>
<line x1="243.12" y1="284.00" x2="243.12" y2="287.00" stroke="#1a1a1a" stroke-width="1.2"/>
<text x="243.12" y="298.00" font-size="8.3" text-anchor="middle" fill="#1a1a1a" stroke="#1a1a1a" stroke-width="0.22">15</text>
<line x1="273.35" y1="284.00" x2="273.35" y2="287.00" stroke="#1a1a1a" stroke-width="1.2"/>
<text x="273.35" y="298.00" font-size="8.3" text-anchor="middle" fill="#1a1a1a" stroke="#1a1a1a" stroke-width="0.22">30</text>
<line x1="333.80" y1="284.00" x2="333.80" y2="287.00" stroke="#1a1a1a" stroke-width="1.2"/>
<text x="333.80" y="298.00" font-size="8.3" text-anchor="middle" fill="#1a1a1a" stroke="#1a1a1a" stroke-width="0.22">60</text>
<text x="248.90" y="154.00" font-size="10.8" textLength="52.60" lengthAdjust="spacingAndGlyphs" fill="#1a1a1a" stroke="#1a1a1a" stroke-width="0.22">FXII-Lys309</text>
<text x="251.20" y="312.60" font-size="10.6" textLength="48.50" lengthAdjust="spacingAndGlyphs" fill="#1a1a1a" stroke="#1a1a1a" stroke-width="0.22">Time (min)</text>
<polyline points="212.90,284.00 213.29,283.96 213.77,283.93 214.32,283.90 214.95,283.87 215.64,283.83 216.36,283.78 217.12,283.70 217.90,283.61 218.69,283.48 219.47,283.32 220.23,283.12 220.96,282.87 221.67,282.59 222.37,282.32 223.07,282.05 223.77,281.75 224.48,281.42 225.20,281.05 225.94,280.63 226.70,280.14 227.48,279.59 228.29,278.95 229.14,278.22 230.03,277.38 230.97,276.43 231.98,275.35 233.05,274.17 234.15,272.90 235.27,271.55 236.41,270.16 237.55,268.72 238.67,267.26 239.76,265.79 240.81,264.33 241.80,262.90 242.72,261.51 243.59,260.13 244.41,258.71 245.21,257.28 245.98,255.83 246.71,254.37 247.42,252.91 248.10,251.46 248.76,250.04 249.40,248.64 250.01,247.27 250.61,245.95 251.19,244.69 251.73,243.48 252.24,242.34 252.72,241.24 253.17,240.18 253.60,239.15 254.01,238.13 254.40,237.12 254.80,236.11 255.19,235.09 255.59,234.04 256.00,232.96 256.42,231.84 256.86,230.67 257.28,229.49 257.71,228.28 258.13,227.06 258.55,225.83 258.97,224.58 259.39,223.33 259.83,222.08 260.27,220.82 260.72,219.57 261.18,218.33 261.66,217.09 262.16,215.84 262.68,214.56 263.22,213.25 263.77,211.93 264.33,210.61 264.89,209.30 265.45,208.01 266.01,206.76 266.56,205.56 267.09,204.42 267.61,203.34 268.11,202.35 268.58,201.46 269.03,200.65 269.45,199.92 269.86,199.24 270.27,198.62 270.67,198.03 271.07,197.46 271.48,196.89 271.91,196.32 272.36,195.72 272.84,195.09 273.35,194.41 273.89,193.69 274.45,192.93 275.03,192.15 275.63,191.36 276.25,190.56 276.88,189.76 277.52,188.97 278.16,188.18 278.82,187.42 279.48,186.69 280.14,186.00 280.81,185.34 281.46,184.72 282.11,184.13 282.75,183.55 283.40,183.00 284.05,182.46 284.71,181.95 285.39,181.46 286.10,180.99 286.83,180.54 287.60,180.10 288.41,179.69 289.27,179.29 290.16,178.92 291.09,178.57 292.05,178.24 293.03,177.93 294.04,177.64 295.09,177.37 296.16,177.12 297.26,176.88 298.39,176.66 299.55,176.45 300.74,176.26 301.96,176.08 303.23,175.92 304.56,175.78 305.94,175.66 307.37,175.56 308.82,175.47 310.29,175.40 311.77,175.33 313.24,175.28 314.70,175.24 316.14,175.20 317.54,175.17 318.89,175.14 320.25,175.11 321.66,175.10 323.11,175.11 324.56,175.12 326.00,175.14 327.40,175.17 328.75,175.20 330.01,175.23 331.17,175.26 332.20,175.29 333.09,175.31 333.80,175.32" fill="none" stroke="#111" stroke-width="1.5" stroke-linejoin="round" stroke-linecap="round"/>
<polyline points="212.90,284.00 214.41,283.77 215.92,283.54 217.43,283.30 218.94,283.06 220.46,282.81 221.97,282.56 223.48,282.31 224.99,282.05 226.50,281.79 228.01,281.52 229.52,281.25 231.03,280.97 232.55,280.69 234.06,280.41 235.57,280.12 237.08,279.83 238.59,279.53 240.10,279.23 241.61,278.92 243.12,278.61 244.64,278.30 246.15,277.98 247.66,277.66 249.17,277.33 250.68,277.00 252.19,276.67 253.70,276.33 255.22,275.98 256.73,275.63 258.24,275.28 259.75,274.93 261.26,274.57 262.77,274.20 264.28,273.83 265.79,273.46 267.31,273.08 268.82,272.70 270.33,272.31 271.84,271.92 273.35,271.53 274.86,271.13 276.37,270.72 277.88,270.32 279.39,269.90 280.91,269.49 282.42,269.07 283.93,268.64 285.44,268.21 286.95,267.78 288.46,267.34 289.97,266.90 291.49,266.46 293.00,266.01 294.51,265.55 296.02,265.09 297.53,264.63 299.04,264.16 300.55,263.69 302.06,263.22 303.58,262.74 305.09,262.25 306.60,261.77 308.11,261.27 309.62,260.78 311.13,260.27 312.64,259.77 314.15,259.26 315.67,258.75 317.18,258.23 318.69,257.71 320.20,257.18 321.71,256.65 323.22,256.11 324.73,255.57 326.24,255.03 327.75,254.48 329.27,253.93 330.78,253.37 332.29,252.81 333.80,252.25" fill="none" stroke="#111" stroke-width="1.5" stroke-linejoin="round" stroke-linecap="round"/>
<line x1="243.12" y1="254.14" x2="243.12" y2="273.04" stroke="#3a3a3a" stroke-width="1.3"/>
<line x1="238.22" y1="254.14" x2="248.03" y2="254.14" stroke="#3a3a3a" stroke-width="1.3"/>
<line x1="238.22" y1="273.04" x2="248.03" y2="273.04" stroke="#3a3a3a" stroke-width="1.3"/>
<line x1="273.35" y1="185.53" x2="273.35" y2="206.51" stroke="#3a3a3a" stroke-width="1.3"/>
<line x1="268.45" y1="185.53" x2="278.25" y2="185.53" stroke="#3a3a3a" stroke-width="1.3"/>
<line x1="268.45" y1="206.51" x2="278.25" y2="206.51" stroke="#3a3a3a" stroke-width="1.3"/>
<line x1="333.80" y1="170.60" x2="333.80" y2="182.32" stroke="#3a3a3a" stroke-width="1.3"/>
<line x1="328.90" y1="170.60" x2="338.70" y2="170.60" stroke="#3a3a3a" stroke-width="1.3"/>
<line x1="328.90" y1="182.32" x2="338.70" y2="182.32" stroke="#3a3a3a" stroke-width="1.3"/>
<path d="M238.32,257.67 L247.93,257.67 L243.12,265.73 Z" fill="#46648e" stroke="#46648e" stroke-width="0.6" stroke-linejoin="miter"/>
<path d="M268.55,191.14 L278.15,191.14 L273.35,199.20 Z" fill="#46648e" stroke="#46648e" stroke-width="0.6" stroke-linejoin="miter"/>
<path d="M329.00,172.24 L338.60,172.24 L333.80,180.30 Z" fill="#46648e" stroke="#46648e" stroke-width="0.6" stroke-linejoin="miter"/>
<line x1="273.35" y1="265.67" x2="273.35" y2="277.76" stroke="#3a3a3a" stroke-width="1.3"/>
<line x1="268.45" y1="265.67" x2="278.25" y2="265.67" stroke="#3a3a3a" stroke-width="1.3"/>
<line x1="268.45" y1="277.76" x2="278.25" y2="277.76" stroke="#3a3a3a" stroke-width="1.3"/>
<line x1="333.80" y1="243.37" x2="333.80" y2="259.81" stroke="#3a3a3a" stroke-width="1.3"/>
<line x1="328.90" y1="243.37" x2="338.70" y2="243.37" stroke="#3a3a3a" stroke-width="1.3"/>
<line x1="328.90" y1="259.81" x2="338.70" y2="259.81" stroke="#3a3a3a" stroke-width="1.3"/>
<path d="M208.10,279.97 L217.70,279.97 L212.90,288.03 Z" fill="#fff" stroke="#b43a4c" stroke-width="1.3" stroke-linejoin="miter"/>
<path d="M218.17,275.62 L227.78,275.62 L222.97,283.69 Z" fill="#fff" stroke="#b43a4c" stroke-width="1.3" stroke-linejoin="miter"/>
<path d="M238.32,274.49 L247.93,274.49 L243.12,282.55 Z" fill="#fff" stroke="#b43a4c" stroke-width="1.3" stroke-linejoin="miter"/>
<path d="M268.55,267.49 L278.15,267.49 L273.35,275.56 Z" fill="#fff" stroke="#b43a4c" stroke-width="1.3" stroke-linejoin="miter"/>
<path d="M329.00,246.14 L338.60,246.14 L333.80,254.20 Z" fill="#fff" stroke="#b43a4c" stroke-width="1.3" stroke-linejoin="miter"/>
<line x1="371.70" y1="159.80" x2="371.70" y2="284.60" stroke="#1a1a1a" stroke-width="1.3"/>
<line x1="371.10" y1="284.00" x2="495.60" y2="284.00" stroke="#1a1a1a" stroke-width="1.3"/>
<line x1="368.70" y1="284.00" x2="371.70" y2="284.00" stroke="#1a1a1a" stroke-width="1.2"/>
<text x="365.10" y="286.90" font-size="8.3" text-anchor="end" fill="#1a1a1a" stroke="#1a1a1a" stroke-width="0.22">0</text>
<line x1="368.70" y1="246.20" x2="371.70" y2="246.20" stroke="#1a1a1a" stroke-width="1.2"/>
<text x="365.10" y="249.10" font-size="8.3" text-anchor="end" fill="#1a1a1a" stroke="#1a1a1a" stroke-width="0.22">20</text>
<line x1="368.70" y1="208.40" x2="371.70" y2="208.40" stroke="#1a1a1a" stroke-width="1.2"/>
<text x="365.10" y="211.30" font-size="8.3" text-anchor="end" fill="#1a1a1a" stroke="#1a1a1a" stroke-width="0.22">40</text>
<line x1="368.70" y1="170.60" x2="371.70" y2="170.60" stroke="#1a1a1a" stroke-width="1.2"/>
<text x="365.10" y="173.50" font-size="8.3" text-anchor="end" fill="#1a1a1a" stroke="#1a1a1a" stroke-width="0.22">60</text>
<text x="371.70" y="298.00" font-size="8.3" text-anchor="middle" fill="#1a1a1a" stroke="#1a1a1a" stroke-width="0.22">0</text>
<line x1="381.75" y1="284.00" x2="381.75" y2="287.00" stroke="#1a1a1a" stroke-width="1.2"/>
<text x="381.75" y="298.00" font-size="8.3" text-anchor="middle" fill="#1a1a1a" stroke="#1a1a1a" stroke-width="0.22">5</text>
<line x1="401.85" y1="284.00" x2="401.85" y2="287.00" stroke="#1a1a1a" stroke-width="1.2"/>
<text x="401.85" y="298.00" font-size="8.3" text-anchor="middle" fill="#1a1a1a" stroke="#1a1a1a" stroke-width="0.22">15</text>
<line x1="432.00" y1="284.00" x2="432.00" y2="287.00" stroke="#1a1a1a" stroke-width="1.2"/>
<text x="432.00" y="298.00" font-size="8.3" text-anchor="middle" fill="#1a1a1a" stroke="#1a1a1a" stroke-width="0.22">30</text>
<line x1="492.30" y1="284.00" x2="492.30" y2="287.00" stroke="#1a1a1a" stroke-width="1.2"/>
<text x="492.30" y="298.00" font-size="8.3" text-anchor="middle" fill="#1a1a1a" stroke="#1a1a1a" stroke-width="0.22">60</text>
<text x="405.70" y="154.00" font-size="10.8" textLength="54.70" lengthAdjust="spacingAndGlyphs" fill="#1a1a1a" stroke="#1a1a1a" stroke-width="0.22">FXII-Arg309</text>
<text x="409.50" y="312.60" font-size="10.6" textLength="48.70" lengthAdjust="spacingAndGlyphs" fill="#1a1a1a" stroke="#1a1a1a" stroke-width="0.22">Time (min)</text>
<polyline points="371.70,284.00 371.99,283.92 372.35,283.82 372.76,283.72 373.23,283.61 373.74,283.48 374.29,283.34 374.86,283.18 375.44,283.01 376.02,282.81 376.61,282.60 377.18,282.37 377.73,282.11 378.27,281.85 378.81,281.59 379.35,281.33 379.90,281.05 380.45,280.76 381.01,280.44 381.58,280.09 382.15,279.70 382.74,279.26 383.33,278.77 383.94,278.21 384.56,277.57 385.20,276.88 385.85,276.13 386.52,275.33 387.19,274.47 387.88,273.57 388.57,272.62 389.27,271.63 389.98,270.59 390.68,269.52 391.39,268.40 392.10,267.24 392.81,266.05 393.51,264.83 394.21,263.59 394.92,262.32 395.63,261.03 396.34,259.69 397.05,258.30 397.77,256.85 398.49,255.33 399.22,253.75 399.96,252.08 400.70,250.32 401.45,248.47 402.21,246.47 402.97,244.31 403.74,242.02 404.52,239.62 405.31,237.15 406.10,234.64 406.89,232.11 407.69,229.60 408.49,227.13 409.29,224.74 410.09,222.46 410.89,220.31 411.70,218.25 412.52,216.21 413.33,214.21 414.16,212.24 414.98,210.32 415.81,208.46 416.63,206.65 417.46,204.91 418.29,203.25 419.11,201.66 419.93,200.16 420.74,198.76 421.56,197.46 422.40,196.25 423.24,195.14 424.09,194.11 424.93,193.15 425.77,192.25 426.60,191.42 427.41,190.63 428.20,189.88 428.96,189.16 429.69,188.47 430.39,187.80 431.05,187.16 431.66,186.59 432.24,186.07 432.79,185.59 433.32,185.16 433.83,184.76 434.34,184.39 434.85,184.04 435.37,183.70 435.90,183.37 436.45,183.04 437.02,182.70 437.60,182.36 438.16,182.03 438.70,181.72 439.24,181.43 439.79,181.15 440.35,180.88 440.95,180.62 441.57,180.37 442.25,180.14 442.98,179.91 443.78,179.69 444.66,179.48 445.57,179.28 446.46,179.09 447.36,178.91 448.29,178.74 449.26,178.58 450.30,178.43 451.43,178.29 452.67,178.17 454.04,178.05 455.56,177.95 457.25,177.86 459.13,177.78 461.35,177.72 463.96,177.68 466.89,177.66 470.03,177.66 473.31,177.66 476.62,177.68 479.89,177.70 483.01,177.72 485.90,177.74 488.48,177.76 490.64,177.78 492.30,177.78" fill="none" stroke="#111" stroke-width="1.5" stroke-linejoin="round" stroke-linecap="round"/>
<polyline points="371.70,284.00 373.21,283.92 374.71,283.82 376.22,283.70 377.73,283.57 379.24,283.42 380.75,283.26 382.25,283.08 383.76,282.89 385.27,282.68 386.77,282.45 388.28,282.21 389.79,281.95 391.30,281.68 392.81,281.39 394.31,281.09 395.82,280.77 397.33,280.43 398.83,280.08 400.34,279.71 401.85,279.33 403.36,278.93 404.87,278.51 406.37,278.08 407.88,277.63 409.39,277.17 410.89,276.69 412.40,276.19 413.91,275.68 415.42,275.16 416.92,274.61 418.43,274.06 419.94,273.48 421.45,272.89 422.95,272.29 424.46,271.67 425.97,271.03 427.48,270.38 428.99,269.71 430.49,269.02 432.00,268.32 433.51,267.61 435.01,266.87 436.52,266.13 438.03,265.36 439.54,264.58 441.04,263.79 442.55,262.98 444.06,262.15 445.57,261.31 447.07,260.45 448.58,259.57 450.09,258.68 451.60,257.78 453.10,256.86 454.61,255.92 456.12,254.96 457.63,254.00 459.13,253.01 460.64,252.01 462.15,250.99 463.66,249.96 465.16,248.91 466.67,247.85 468.18,246.77 469.69,245.67 471.19,244.56 472.70,243.43 474.21,242.29 475.72,241.13 477.22,239.95 478.73,238.76 480.24,237.56 481.75,236.33 483.25,235.10 484.76,233.84 486.27,232.57 487.78,231.29 489.28,229.98 490.79,228.67 492.30,227.33" fill="none" stroke="#111" stroke-width="1.5" stroke-linejoin="round" stroke-linecap="round"/>
<line x1="401.85" y1="238.07" x2="401.85" y2="257.35" stroke="#3a3a3a" stroke-width="1.3"/>
<line x1="396.95" y1="238.07" x2="406.75" y2="238.07" stroke="#3a3a3a" stroke-width="1.3"/>
<line x1="396.95" y1="257.35" x2="406.75" y2="257.35" stroke="#3a3a3a" stroke-width="1.3"/>
<line x1="432.00" y1="181.18" x2="432.00" y2="195.74" stroke="#3a3a3a" stroke-width="1.3"/>
<line x1="427.10" y1="181.18" x2="436.90" y2="181.18" stroke="#3a3a3a" stroke-width="1.3"/>
<line x1="427.10" y1="195.74" x2="436.90" y2="195.74" stroke="#3a3a3a" stroke-width="1.3"/>
<line x1="432.00" y1="256.03" x2="432.00" y2="280.41" stroke="#b8485a" stroke-width="1.2"/>
<line x1="427.10" y1="256.03" x2="436.90" y2="256.03" stroke="#b8485a" stroke-width="1.2"/>
<line x1="427.10" y1="280.41" x2="436.90" y2="280.41" stroke="#b8485a" stroke-width="1.2"/>
<line x1="492.30" y1="213.69" x2="492.30" y2="240.53" stroke="#b8485a" stroke-width="1.2"/>
<line x1="487.40" y1="213.69" x2="497.20" y2="213.69" stroke="#b8485a" stroke-width="1.2"/>
<line x1="487.40" y1="240.53" x2="497.20" y2="240.53" stroke="#b8485a" stroke-width="1.2"/>
<rect x="377.65" y="278.01" width="8.2" height="8.2" fill="#46648e" stroke="#2e4a74" stroke-width="0.6"/>
<rect x="397.75" y="243.99" width="8.2" height="8.2" fill="#46648e" stroke="#2e4a74" stroke-width="0.6"/>
<rect x="427.90" y="184.08" width="8.2" height="8.2" fill="#46648e" stroke="#2e4a74" stroke-width="0.6"/>
<rect x="488.20" y="174.06" width="8.2" height="8.2" fill="#46648e" stroke="#2e4a74" stroke-width="0.6"/>
<rect x="367.60" y="279.90" width="8.2" height="8.2" fill="#fff" stroke="#b43a4c" stroke-width="1.5"/>
<rect x="377.65" y="278.01" width="8.2" height="8.2" fill="#fff" stroke="#b43a4c" stroke-width="1.5"/>
<rect x="397.75" y="275.55" width="8.2" height="8.2" fill="#fff" stroke="#b43a4c" stroke-width="1.5"/>
<rect x="427.90" y="264.21" width="8.2" height="8.2" fill="#fff" stroke="#b43a4c" stroke-width="1.5"/>
<rect x="488.20" y="223.20" width="8.2" height="8.2" fill="#fff" stroke="#b43a4c" stroke-width="1.5"/>
<text x="8.90" y="334.30" font-size="12.4" textLength="7.30" lengthAdjust="spacingAndGlyphs" fill="#1a1a1a" stroke="#1a1a1a" stroke-width="0.22">C</text>
<text x="32.50" y="344.20" font-size="10.7" textLength="16.80" lengthAdjust="spacingAndGlyphs" fill="#1a1a1a" stroke="#1a1a1a" stroke-width="0.22">FXII</text>
<text x="35.50" y="359.90" font-size="10.7" textLength="32.50" lengthAdjust="spacingAndGlyphs" fill="#1a1a1a" stroke="#1a1a1a" stroke-width="0.22">FXII-3C</text>
<text x="80.50" y="344.20" font-size="10.7" textLength="25.20" lengthAdjust="spacingAndGlyphs" fill="#1a1a1a" stroke="#1a1a1a" stroke-width="0.22">PKPQ</text>
<text x="80.50" y="359.90" font-size="10.7" textLength="25.20" lengthAdjust="spacingAndGlyphs" fill="#1a1a1a" stroke="#1a1a1a" stroke-width="0.22">PKPQ</text>
<rect x="107.90" y="347.30" width="58.20" height="17.60" fill="none" stroke="#1a1a1a" stroke-width="1.1"/>
<text x="121.50" y="359.90" font-size="10.7" textLength="42.60" lengthAdjust="spacingAndGlyphs" fill="#1a1a1a" stroke="#1a1a1a" stroke-width="0.22">LEVLFQG</text>
<text x="164.00" y="344.20" font-size="10.7" textLength="37.00" lengthAdjust="spacingAndGlyphs" fill="#1a1a1a" stroke="#1a1a1a" stroke-width="0.22">P TTRTP</text>
<text x="164.00" y="359.90" font-size="10.7" textLength="37.00" lengthAdjust="spacingAndGlyphs" fill="#1a1a1a" stroke="#1a1a1a" stroke-width="0.22">P TTRTP</text>
<path d="M149.7,361.4 L154.0,374.2 L145.8,374.2 Z" fill="#111" stroke="#111" stroke-width="0.4" stroke-linejoin="round"/>
<text x="123.00" y="388.00" font-size="10.7" textLength="54.00" lengthAdjust="spacingAndGlyphs" fill="#1a1a1a" stroke="#1a1a1a" stroke-width="0.22">3C Protease</text>
<text x="118.50" y="400.80" font-size="10.7" textLength="62.10" lengthAdjust="spacingAndGlyphs" fill="#1a1a1a" stroke="#1a1a1a" stroke-width="0.22">Cleavage Site</text>
<line x1="203.30" y1="348.60" x2="232.00" y2="348.60" stroke="#1a1a1a" stroke-width="1.2"/>
<path d="M239.5,348.6 L228.0,343.8 L231.0,348.6 L228.0,353.5 Z" fill="#111" stroke="#111" stroke-width="0.4" stroke-linejoin="round"/>
<text x="255.60" y="352.30" font-size="10.7" textLength="60.20" lengthAdjust="spacingAndGlyphs" fill="#1a1a1a" stroke="#1a1a1a" stroke-width="0.22">PKPQLEVLFQ</text>
<text x="316.60" y="347.60" font-size="7.0" textLength="24.80" lengthAdjust="spacingAndGlyphs" fill="#1a1a1a" stroke="#1a1a1a" stroke-width="0.22">-COOH</text>
<text x="270.00" y="369.00" font-size="10.7" textLength="62.20" lengthAdjust="spacingAndGlyphs" fill="#1a1a1a" stroke="#1a1a1a" stroke-width="0.22">N-terminus of</text>
<text x="330.60" y="368.40" font-size="9.0" textLength="5.20" lengthAdjust="spacingAndGlyphs" fill="#1a1a1a" stroke="#1a1a1a" stroke-width="0.22">&#948;</text>
<text x="341.40" y="369.40" font-size="10.7" textLength="31.60" lengthAdjust="spacingAndGlyphs" fill="#1a1a1a" stroke="#1a1a1a" stroke-width="0.22">FXII-3C</text>
<text x="373.00" y="349.30" font-size="8.0" textLength="11.00" lengthAdjust="spacingAndGlyphs" fill="#1a1a1a" stroke="#1a1a1a" stroke-width="0.22">NH</text>
<text x="384.00" y="351.00" font-size="4.8" fill="#1a1a1a" stroke="#1a1a1a" stroke-width="0.22">2</text>
<text x="387.00" y="349.80" font-size="10.7" textLength="44.20" lengthAdjust="spacingAndGlyphs" fill="#1a1a1a" stroke="#1a1a1a" stroke-width="0.22">-GPTTRTP</text>
<line x1="377.20" y1="366.20" x2="383.20" y2="356.60" stroke="#1a1a1a" stroke-width="1.4"/>
<path d="M386.4,351.4 L386.2,360.2 L383.6,357.0 L379.4,356.6 Z" fill="#111" stroke="#111" stroke-width="0.5" stroke-linejoin="round"/>
<text x="8.60" y="420.10" font-size="13.4" textLength="9.40" lengthAdjust="spacingAndGlyphs" fill="#1a1a1a" stroke="#1a1a1a" stroke-width="0.22">D</text>
<text x="31.70" y="429.60" font-size="9.9" textLength="26.10" lengthAdjust="spacingAndGlyphs" fill="#1a1a1a" stroke="#1a1a1a" stroke-width="0.22">FXII-3C</text>
<text x="106.70" y="429.60" font-size="9.5" textLength="4.50" lengthAdjust="spacingAndGlyphs" fill="#1a1a1a" stroke="#1a1a1a" stroke-width="0.22">H</text>
<text x="111.30" y="431.50" font-size="6.0" textLength="3.00" lengthAdjust="spacingAndGlyphs" fill="#1a1a1a" stroke="#1a1a1a" stroke-width="0.22">2</text>
<text x="114.80" y="429.60" font-size="9.5" textLength="6.50" lengthAdjust="spacingAndGlyphs" fill="#1a1a1a" stroke="#1a1a1a" stroke-width="0.22">N</text>
<line x1="125.40" y1="426.40" x2="128.30" y2="426.40" stroke="#1a1a1a" stroke-width="1.0"/>
<rect x="343.40" y="419.50" width="133.50" height="13.80" fill="#d09b8c" stroke="none" stroke-width="1"/>
<rect x="128.30" y="419.50" width="348.60" height="13.80" fill="none" stroke="#222" stroke-width="1.05"/>
<line x1="163.60" y1="419.50" x2="163.60" y2="433.30" stroke="#222" stroke-width="1.05"/>
<line x1="198.60" y1="419.50" x2="198.60" y2="433.30" stroke="#222" stroke-width="1.05"/>
<line x1="233.20" y1="419.50" x2="233.20" y2="433.30" stroke="#222" stroke-width="1.05"/>
<line x1="267.50" y1="419.50" x2="267.50" y2="433.30" stroke="#222" stroke-width="1.05"/>
<line x1="308.20" y1="419.50" x2="308.20" y2="433.30" stroke="#222" stroke-width="1.05"/>
<line x1="343.40" y1="419.50" x2="343.40" y2="433.30" stroke="#222" stroke-width="1.05"/>
<rect x="435.80" y="419.50" width="3.30" height="13.80" fill="#111" stroke="none" stroke-width="1"/>
<line x1="477.60" y1="426.40" x2="480.80" y2="426.40" stroke="#1a1a1a" stroke-width="1.0"/>
<text x="483.70" y="429.60" font-size="9.7" textLength="24.00" lengthAdjust="spacingAndGlyphs" fill="#1a1a1a" stroke="#1a1a1a" stroke-width="0.22">COOH</text>
<text x="420.20" y="443.80" font-size="9.7" textLength="25.60" lengthAdjust="spacingAndGlyphs" fill="#1a1a1a" stroke="#1a1a1a" stroke-width="0.22">Ser544</text>
<text x="141.50" y="429.60" font-size="9.6" textLength="9.40" lengthAdjust="spacingAndGlyphs" fill="#1a1a1a" stroke="#1a1a1a" stroke-width="0.22">F2</text>
<text x="170.80" y="429.60" font-size="9.6" textLength="18.80" lengthAdjust="spacingAndGlyphs" fill="#1a1a1a" stroke="#1a1a1a" stroke-width="0.22">EGF1</text>
<text x="211.05" y="429.60" font-size="9.6" textLength="8.50" lengthAdjust="spacingAndGlyphs" fill="#1a1a1a" stroke="#1a1a1a" stroke-width="0.22">F1</text>
<text x="240.10" y="429.60" font-size="9.6" textLength="19.80" lengthAdjust="spacingAndGlyphs" fill="#1a1a1a" stroke="#1a1a1a" stroke-width="0.22">EGF2</text>
<text x="285.55" y="429.60" font-size="9.6" textLength="4.90" lengthAdjust="spacingAndGlyphs" fill="#1a1a1a" stroke="#1a1a1a" stroke-width="0.22">K</text>
<text x="318.45" y="429.60" font-size="9.6" textLength="15.10" lengthAdjust="spacingAndGlyphs" fill="#1a1a1a" stroke="#1a1a1a" stroke-width="0.22">PRR</text>
<path d="M343.0,419.50 V412.80 H363.1 M379.8,412.80 H401.7 V419.50" fill="none" stroke="#222" stroke-width="1.05"/>
<text x="365.60" y="415.00" font-size="9.4" textLength="11.50" lengthAdjust="spacingAndGlyphs" fill="#1a1a1a" stroke="#1a1a1a" stroke-width="0.22">S-S</text>
<path d="M327.60,434.60 L329.70,439.80 L325.50,439.80 Z" fill="#fff" stroke="#111" stroke-width="1.0" stroke-linejoin="miter"/>
<text x="321.60" y="450.80" font-size="9.7" textLength="9.80" lengthAdjust="spacingAndGlyphs" fill="#1a1a1a" stroke="#1a1a1a" stroke-width="0.22">3C</text>
<path d="M340.30,434.60 L342.40,439.80 L338.20,439.80 Z" fill="#fff" stroke="#111" stroke-width="1.0" stroke-linejoin="miter"/>
<path d="M353.50,434.60 L355.60,439.80 L351.40,439.80 Z" fill="#111" stroke="#111" stroke-width="1.0" stroke-linejoin="miter"/>
<text x="33.00" y="474.25" font-size="9.9" textLength="57.50" lengthAdjust="spacingAndGlyphs" fill="#1a1a1a" stroke="#1a1a1a" stroke-width="0.22">&#948;HC + &#948;FXII-3C</text>
<text x="106.70" y="473.45" font-size="9.5" textLength="4.50" lengthAdjust="spacingAndGlyphs" fill="#1a1a1a" stroke="#1a1a1a" stroke-width="0.22">H</text>
<text x="111.30" y="475.35" font-size="6.0" textLength="3.00" lengthAdjust="spacingAndGlyphs" fill="#1a1a1a" stroke="#1a1a1a" stroke-width="0.22">2</text>
<text x="114.80" y="473.45" font-size="9.5" textLength="6.50" lengthAdjust="spacingAndGlyphs" fill="#1a1a1a" stroke="#1a1a1a" stroke-width="0.22">N</text>
<line x1="125.40" y1="470.25" x2="128.30" y2="470.25" stroke="#1a1a1a" stroke-width="1.0"/>
<rect x="128.30" y="463.20" width="195.30" height="14.10" fill="none" stroke="#222" stroke-width="1.05"/>
<line x1="163.60" y1="463.20" x2="163.60" y2="477.30" stroke="#222" stroke-width="1.05"/>
<line x1="198.60" y1="463.20" x2="198.60" y2="477.30" stroke="#222" stroke-width="1.05"/>
<line x1="233.20" y1="463.20" x2="233.20" y2="477.30" stroke="#222" stroke-width="1.05"/>
<line x1="267.50" y1="463.20" x2="267.50" y2="477.30" stroke="#222" stroke-width="1.05"/>
<line x1="308.20" y1="463.20" x2="308.20" y2="477.30" stroke="#222" stroke-width="1.05"/>
<rect x="343.40" y="463.20" width="133.50" height="14.10" fill="#d09b8c" stroke="none" stroke-width="1"/>
<rect x="326.40" y="463.20" width="150.50" height="14.10" fill="none" stroke="#222" stroke-width="1.05"/>
<line x1="343.40" y1="463.20" x2="343.40" y2="477.30" stroke="#222" stroke-width="1.05"/>
<rect x="435.80" y="463.20" width="3.30" height="14.10" fill="#111" stroke="none" stroke-width="1"/>
<line x1="477.60" y1="470.25" x2="480.80" y2="470.25" stroke="#1a1a1a" stroke-width="1.0"/>
<text x="483.70" y="473.45" font-size="9.7" textLength="24.00" lengthAdjust="spacingAndGlyphs" fill="#1a1a1a" stroke="#1a1a1a" stroke-width="0.22">COOH</text>
<text x="420.20" y="487.80" font-size="9.7" textLength="25.60" lengthAdjust="spacingAndGlyphs" fill="#1a1a1a" stroke="#1a1a1a" stroke-width="0.22">Ser544</text>
<text x="141.50" y="473.45" font-size="9.6" textLength="9.40" lengthAdjust="spacingAndGlyphs" fill="#1a1a1a" stroke="#1a1a1a" stroke-width="0.22">F2</text>
<text x="170.80" y="473.45" font-size="9.6" textLength="18.80" lengthAdjust="spacingAndGlyphs" fill="#1a1a1a" stroke="#1a1a1a" stroke-width="0.22">EGF1</text>
<text x="211.05" y="473.45" font-size="9.6" textLength="8.50" lengthAdjust="spacingAndGlyphs" fill="#1a1a1a" stroke="#1a1a1a" stroke-width="0.22">F1</text>
<text x="240.10" y="473.45" font-size="9.6" textLength="19.80" lengthAdjust="spacingAndGlyphs" fill="#1a1a1a" stroke="#1a1a1a" stroke-width="0.22">EGF2</text>
<text x="285.55" y="473.45" font-size="9.6" textLength="4.90" lengthAdjust="spacingAndGlyphs" fill="#1a1a1a" stroke="#1a1a1a" stroke-width="0.22">K</text>
<path d="M343.0,463.20 V456.80 H363.1 M379.8,456.80 H401.7 V463.20" fill="none" stroke="#222" stroke-width="1.05"/>
<text x="365.60" y="459.00" font-size="9.4" textLength="11.50" lengthAdjust="spacingAndGlyphs" fill="#1a1a1a" stroke="#1a1a1a" stroke-width="0.22">S-S</text>
<path d="M340.30,478.60 L342.40,483.80 L338.20,483.80 Z" fill="#fff" stroke="#111" stroke-width="1.0" stroke-linejoin="miter"/>
<path d="M353.50,478.60 L355.60,483.80 L351.40,483.80 Z" fill="#111" stroke="#111" stroke-width="1.0" stroke-linejoin="miter"/>
<text x="33.30" y="516.10" font-size="9.9" textLength="61.30" lengthAdjust="spacingAndGlyphs" fill="#1a1a1a" stroke="#1a1a1a" stroke-width="0.22">&#948;HC + &#948;FXIIa-3C</text>
<text x="106.70" y="515.70" font-size="9.5" textLength="4.50" lengthAdjust="spacingAndGlyphs" fill="#1a1a1a" stroke="#1a1a1a" stroke-width="0.22">H</text>
<text x="111.30" y="517.60" font-size="6.0" textLength="3.00" lengthAdjust="spacingAndGlyphs" fill="#1a1a1a" stroke="#1a1a1a" stroke-width="0.22">2</text>
<text x="114.80" y="515.70" font-size="9.5" textLength="6.50" lengthAdjust="spacingAndGlyphs" fill="#1a1a1a" stroke="#1a1a1a" stroke-width="0.22">N</text>
<line x1="125.40" y1="512.50" x2="128.30" y2="512.50" stroke="#1a1a1a" stroke-width="1.0"/>
<rect x="128.30" y="505.50" width="195.30" height="14.00" fill="none" stroke="#222" stroke-width="1.05"/>
<line x1="163.60" y1="505.50" x2="163.60" y2="519.50" stroke="#222" stroke-width="1.05"/>
<line x1="198.60" y1="505.50" x2="198.60" y2="519.50" stroke="#222" stroke-width="1.05"/>
<line x1="233.20" y1="505.50" x2="233.20" y2="519.50" stroke="#222" stroke-width="1.05"/>
<line x1="267.50" y1="505.50" x2="267.50" y2="519.50" stroke="#222" stroke-width="1.05"/>
<line x1="308.20" y1="505.50" x2="308.20" y2="519.50" stroke="#222" stroke-width="1.05"/>
<rect x="343.40" y="505.50" width="9.10" height="14.00" fill="#d09b8c" stroke="none" stroke-width="1"/>
<rect x="326.40" y="505.50" width="26.10" height="14.00" fill="none" stroke="#222" stroke-width="1.05"/>
<line x1="343.40" y1="505.50" x2="343.40" y2="519.50" stroke="#222" stroke-width="1.05"/>
<rect x="357.80" y="505.50" width="119.10" height="14.00" fill="#d09b8c" stroke="#222" stroke-width="1.05"/>
<rect x="435.80" y="505.50" width="3.30" height="14.00" fill="#111" stroke="none" stroke-width="1"/>
<line x1="477.60" y1="512.50" x2="480.80" y2="512.50" stroke="#1a1a1a" stroke-width="1.0"/>
<text x="483.70" y="515.70" font-size="9.7" textLength="24.00" lengthAdjust="spacingAndGlyphs" fill="#1a1a1a" stroke="#1a1a1a" stroke-width="0.22">COOH</text>
<text x="420.20" y="530.00" font-size="9.7" textLength="25.60" lengthAdjust="spacingAndGlyphs" fill="#1a1a1a" stroke="#1a1a1a" stroke-width="0.22">Ser544</text>
<text x="141.50" y="515.70" font-size="9.6" textLength="9.40" lengthAdjust="spacingAndGlyphs" fill="#1a1a1a" stroke="#1a1a1a" stroke-width="0.22">F2</text>
<text x="170.80" y="515.70" font-size="9.6" textLength="18.80" lengthAdjust="spacingAndGlyphs" fill="#1a1a1a" stroke="#1a1a1a" stroke-width="0.22">EGF1</text>
<text x="211.05" y="515.70" font-size="9.6" textLength="8.50" lengthAdjust="spacingAndGlyphs" fill="#1a1a1a" stroke="#1a1a1a" stroke-width="0.22">F1</text>
<text x="240.10" y="515.70" font-size="9.6" textLength="19.80" lengthAdjust="spacingAndGlyphs" fill="#1a1a1a" stroke="#1a1a1a" stroke-width="0.22">EGF2</text>
<text x="285.55" y="515.70" font-size="9.6" textLength="4.90" lengthAdjust="spacingAndGlyphs" fill="#1a1a1a" stroke="#1a1a1a" stroke-width="0.22">K</text>
<path d="M343.0,505.50 V498.30 H363.1 M379.8,498.30 H401.7 V505.50" fill="none" stroke="#222" stroke-width="1.05"/>
<text x="365.60" y="500.50" font-size="9.4" textLength="11.50" lengthAdjust="spacingAndGlyphs" fill="#1a1a1a" stroke="#1a1a1a" stroke-width="0.22">S-S</text>
<path d="M340.30,520.80 L342.40,526.00 L338.20,526.00 Z" fill="#fff" stroke="#111" stroke-width="1.0" stroke-linejoin="miter"/>
<path d="M352.60,520.80 L354.70,526.00 L350.50,526.00 Z" fill="#111" stroke="#111" stroke-width="1.0" stroke-linejoin="miter"/>
<text x="8.90" y="553.30" font-size="12.4" textLength="6.00" lengthAdjust="spacingAndGlyphs" fill="#1a1a1a" stroke="#1a1a1a" stroke-width="0.22">E</text>
<defs><linearGradient id="gE" x1="0" x2="1" y1="0" y2="0"><stop offset="0" stop-color="#dcdadc"/><stop offset="0.9" stop-color="#dad8da"/><stop offset="1" stop-color="#c8c6c8"/></linearGradient></defs>
<rect x="37.20" y="621.40" width="97.00" height="84.80" fill="url(#gE)" stroke="#111" stroke-width="1.5"/>
<line x1="33.60" y1="633.30" x2="37.20" y2="633.30" stroke="#1a1a1a" stroke-width="1.2"/>
<text x="30.40" y="636.20" font-size="8.3" text-anchor="end" fill="#1a1a1a" stroke="#1a1a1a" stroke-width="0.22">75</text>
<line x1="33.60" y1="647.50" x2="37.20" y2="647.50" stroke="#1a1a1a" stroke-width="1.2"/>
<text x="30.40" y="650.40" font-size="8.3" text-anchor="end" fill="#1a1a1a" stroke="#1a1a1a" stroke-width="0.22">50</text>
<line x1="33.60" y1="664.30" x2="37.20" y2="664.30" stroke="#1a1a1a" stroke-width="1.2"/>
<text x="30.40" y="667.20" font-size="8.3" text-anchor="end" fill="#1a1a1a" stroke="#1a1a1a" stroke-width="0.22">37</text>
<line x1="33.60" y1="691.80" x2="37.20" y2="691.80" stroke="#1a1a1a" stroke-width="1.2"/>
<text x="30.40" y="694.70" font-size="8.3" text-anchor="end" fill="#1a1a1a" stroke="#1a1a1a" stroke-width="0.22">20</text>
<path d="M43.20,653.50 L67.60,653.50 L67.60,655.60 L43.20,655.60 Z" fill="#202020" stroke="#202020" stroke-width="2.70" stroke-linejoin="round" opacity="0.300" filter="url(#b8)"/>
<path d="M43.85,650.55 L66.85,650.75 L66.85,651.95 L43.85,652.15 Z" fill="#050505" stroke="#050505" stroke-width="4.20" stroke-linejoin="round" opacity="1.000" filter="url(#b8)"/>
<path d="M43.85,650.55 L66.85,650.75 L66.85,651.95 L43.85,652.15 Z" fill="#050505" stroke="#050505" stroke-width="2.80" stroke-linejoin="round" opacity="0.850"/>
<path d="M44.15,663.55 L66.85,663.55 L66.85,665.65 L44.15,665.65 Z" fill="#080808" stroke="#080808" stroke-width="4.20" stroke-linejoin="round" opacity="1.000" filter="url(#b8)"/>
<path d="M44.15,663.55 L66.85,663.55 L66.85,665.65 L44.15,665.65 Z" fill="#080808" stroke="#080808" stroke-width="2.80" stroke-linejoin="round" opacity="0.850"/>
<path d="M44.36,670.76 L66.64,670.76 L66.64,671.24 L44.36,671.24 Z" fill="#161616" stroke="#161616" stroke-width="3.42" stroke-linejoin="round" opacity="0.100" filter="url(#b8)"/>
<path d="M73.60,651.90 L101.20,651.70 L101.20,652.70 L73.60,652.50 Z" fill="#141414" stroke="#141414" stroke-width="2.90" stroke-linejoin="round" opacity="0.720" filter="url(#b8)"/>
<path d="M73.60,651.90 L101.20,651.70 L101.20,652.70 L73.60,652.50 Z" fill="#141414" stroke="#141414" stroke-width="1.50" stroke-linejoin="round" opacity="0.612"/>
<path d="M108.70,663.70 L129.10,663.70 L129.10,665.70 L108.70,665.70 Z" fill="#141414" stroke="#141414" stroke-width="3.70" stroke-linejoin="round" opacity="0.720" filter="url(#b8)"/>
<path d="M108.70,663.70 L129.10,663.70 L129.10,665.70 L108.70,665.70 Z" fill="#141414" stroke="#141414" stroke-width="2.30" stroke-linejoin="round" opacity="0.612"/>
<path d="M93.2,674.5 C91.6,676.5 92.6,678.2 91.4,680.8" fill="none" stroke="#555" stroke-width="0.7" opacity="0.8"/>
<circle cx="111.6" cy="646.5" r="0.5" fill="#555" opacity="0.7"/><circle cx="113.2" cy="649.8" r="0.5" fill="#555" opacity="0.7"/><circle cx="121.8" cy="670.2" r="0.6" fill="#333" opacity="0.8"/><circle cx="123.5" cy="681" r="0.5" fill="#666" opacity="0.6"/>
<text x="56.40" y="610.00" font-size="9.2" textLength="60.00" lengthAdjust="spacingAndGlyphs" transform="rotate(-43 56.4 610.0)" fill="#1a1a1a" stroke="#1a1a1a" stroke-width="0.22">Cleaved FXII-3C</text>
<text x="86.20" y="614.60" font-size="7.8" textLength="14.40" lengthAdjust="spacingAndGlyphs" transform="rotate(-45 86.2 614.6)" fill="#1a1a1a" stroke="#1a1a1a" stroke-width="0.22">&#948;HC</text>
<text x="116.60" y="614.20" font-size="7.8" textLength="27.60" lengthAdjust="spacingAndGlyphs" transform="rotate(-44 116.6 614.2)" fill="#1a1a1a" stroke="#1a1a1a" stroke-width="0.22">&#948;FXII-3C</text>
<text x="172.30" y="553.50" font-size="12.4" textLength="6.00" lengthAdjust="spacingAndGlyphs" fill="#1a1a1a" stroke="#1a1a1a" stroke-width="0.22">F</text>
<line x1="203.50" y1="560.80" x2="203.50" y2="686.40" stroke="#1a1a1a" stroke-width="1.3"/>
<line x1="202.90" y1="685.80" x2="327.00" y2="685.80" stroke="#1a1a1a" stroke-width="1.3"/>
<line x1="200.50" y1="685.80" x2="203.50" y2="685.80" stroke="#1a1a1a" stroke-width="1.2"/>
<text x="196.70" y="688.70" font-size="8.3" text-anchor="end" fill="#1a1a1a" stroke="#1a1a1a" stroke-width="0.22">0</text>
<line x1="200.50" y1="649.60" x2="203.50" y2="649.60" stroke="#1a1a1a" stroke-width="1.2"/>
<text x="196.70" y="652.50" font-size="8.3" text-anchor="end" fill="#1a1a1a" stroke="#1a1a1a" stroke-width="0.22">20</text>
<line x1="200.50" y1="613.40" x2="203.50" y2="613.40" stroke="#1a1a1a" stroke-width="1.2"/>
<text x="196.70" y="616.30" font-size="8.3" text-anchor="end" fill="#1a1a1a" stroke="#1a1a1a" stroke-width="0.22">40</text>
<line x1="200.50" y1="577.20" x2="203.50" y2="577.20" stroke="#1a1a1a" stroke-width="1.2"/>
<text x="196.70" y="580.10" font-size="8.3" text-anchor="end" fill="#1a1a1a" stroke="#1a1a1a" stroke-width="0.22">60</text>
<text x="203.50" y="698.20" font-size="8.3" text-anchor="middle" fill="#1a1a1a" stroke="#1a1a1a" stroke-width="0.22">0</text>
<line x1="242.06" y1="685.80" x2="242.06" y2="688.80" stroke="#1a1a1a" stroke-width="1.2"/>
<text x="242.06" y="698.20" font-size="8.3" text-anchor="middle" fill="#1a1a1a" stroke="#1a1a1a" stroke-width="0.22">20</text>
<line x1="280.62" y1="685.80" x2="280.62" y2="688.80" stroke="#1a1a1a" stroke-width="1.2"/>
<text x="280.62" y="698.20" font-size="8.3" text-anchor="middle" fill="#1a1a1a" stroke="#1a1a1a" stroke-width="0.22">40</text>
<line x1="319.18" y1="685.80" x2="319.18" y2="688.80" stroke="#1a1a1a" stroke-width="1.2"/>
<text x="319.18" y="698.20" font-size="8.3" text-anchor="middle" fill="#1a1a1a" stroke="#1a1a1a" stroke-width="0.22">60</text>
<text x="227.80" y="554.20" font-size="10.7" textLength="74.90" lengthAdjust="spacingAndGlyphs" fill="#1a1a1a" stroke="#1a1a1a" stroke-width="0.22">&#8211;Polyphosphate</text>
<text x="239.40" y="712.40" font-size="10.6" textLength="48.50" lengthAdjust="spacingAndGlyphs" fill="#1a1a1a" stroke="#1a1a1a" stroke-width="0.22">Time (min)</text>
<text x="177.40" y="658.90" font-size="10.3" textLength="64.50" lengthAdjust="spacingAndGlyphs" transform="rotate(-90 177.4 658.9)" fill="#1a1a1a" stroke="#1a1a1a" stroke-width="0.22">Kallikrein (nM)</text>
<polyline points="203.50,685.80 203.97,685.75 204.57,685.70 205.28,685.64 206.07,685.57 206.93,685.50 207.84,685.42 208.77,685.32 209.71,685.22 210.64,685.11 211.53,684.99 212.37,684.86 213.14,684.71 213.86,684.57 214.56,684.42 215.25,684.27 215.92,684.12 216.59,683.95 217.24,683.78 217.87,683.58 218.50,683.36 219.10,683.11 219.70,682.84 220.28,682.53 220.85,682.18 221.40,681.80 221.93,681.40 222.43,680.97 222.92,680.52 223.40,680.04 223.86,679.53 224.32,679.00 224.78,678.43 225.24,677.84 225.69,677.21 226.16,676.54 226.64,675.84 227.09,675.18 227.50,674.60 227.88,674.05 228.24,673.52 228.61,672.95 228.99,672.32 229.39,671.57 229.85,670.69 230.36,669.63 230.95,668.35 231.63,666.81 232.42,664.98 233.32,662.83 234.33,660.36 235.42,657.62 236.60,654.66 237.83,651.52 239.11,648.24 240.42,644.88 241.74,641.46 243.06,638.05 244.37,634.68 245.65,631.39 246.88,628.24 248.12,625.08 249.41,621.75 250.74,618.32 252.09,614.83 253.44,611.35 254.77,607.91 256.07,604.58 257.31,601.41 258.47,598.44 259.54,595.74 260.51,593.34 261.34,591.32 262.03,589.69 262.57,588.43 263.00,587.48 263.34,586.79 263.60,586.30 263.81,585.98 263.99,585.76 264.16,585.59 264.34,585.43 264.56,585.22 264.84,584.90 265.20,584.44 265.60,583.88 266.03,583.31 266.46,582.74 266.91,582.17 267.37,581.61 267.85,581.05 268.34,580.49 268.84,579.95 269.35,579.42 269.88,578.90 270.42,578.40 270.98,577.92 271.54,577.46 272.11,577.01 272.68,576.57 273.27,576.14 273.86,575.72 274.47,575.32 275.11,574.93 275.76,574.56 276.45,574.20 277.16,573.86 277.91,573.53 278.69,573.22 279.51,572.93 280.37,572.65 281.27,572.39 282.19,572.15 283.14,571.92 284.11,571.70 285.11,571.50 286.12,571.31 287.14,571.14 288.18,570.98 289.22,570.82 290.26,570.68 291.31,570.56 292.38,570.45 293.45,570.35 294.54,570.27 295.65,570.20 296.77,570.14 297.90,570.09 299.04,570.05 300.20,570.02 301.37,570.00 302.56,569.98 303.76,569.96 305.02,569.95 306.39,569.96 307.84,569.98 309.33,570.01 310.83,570.05 312.31,570.10 313.75,570.14 315.11,570.19 316.36,570.23 317.48,570.27 318.43,570.30 319.18,570.32" fill="none" stroke="#111" stroke-width="1.7" stroke-linejoin="round" stroke-linecap="round"/>
<polyline points="203.50,685.80 203.94,685.64 204.44,685.46 205.01,685.25 205.64,685.02 206.35,684.77 207.11,684.49 207.95,684.18 208.86,683.84 209.83,683.48 210.86,683.08 211.97,682.65 213.14,682.18 214.38,681.67 215.68,681.12 217.06,680.52 218.50,679.89 220.00,679.22 221.57,678.54 223.22,677.83 224.92,677.11 226.70,676.39 228.54,675.66 230.45,674.93 232.42,674.22 234.49,673.50 236.68,672.79 238.97,672.06 241.35,671.33 243.79,670.60 246.28,669.85 248.80,669.09 251.34,668.33 253.88,667.56 256.41,666.77 258.90,665.97 261.34,665.17 263.75,664.35 266.16,663.51 268.57,662.67 270.98,661.81 273.39,660.95 275.80,660.08 278.21,659.19 280.62,658.30 283.03,657.40 285.44,656.50 287.85,655.59 290.26,654.67 292.76,653.70 295.41,652.67 298.17,651.58 300.97,650.46 303.77,649.33 306.53,648.22 309.18,647.14 311.68,646.13 313.98,645.19 316.03,644.36 317.78,643.65 319.18,643.08" fill="none" stroke="#111" stroke-width="1.25" stroke-linejoin="round" stroke-linecap="round"/>
<polyline points="203.50,685.80 203.94,685.71 204.44,685.61 205.01,685.51 205.64,685.40 206.35,685.27 207.11,685.12 207.95,684.95 208.86,684.75 209.83,684.53 210.86,684.27 211.97,683.97 213.14,683.63 214.38,683.25 215.68,682.82 217.06,682.36 218.50,681.87 220.00,681.35 221.57,680.80 223.22,680.23 224.92,679.63 226.70,679.02 228.54,678.39 230.45,677.76 232.42,677.11 234.49,676.45 236.68,675.78 238.97,675.09 241.35,674.38 243.79,673.65 246.28,672.90 248.80,672.14 251.34,671.36 253.88,670.56 256.41,669.75 258.90,668.91 261.34,668.06 263.75,667.19 266.16,666.29 268.57,665.37 270.98,664.43 273.39,663.47 275.80,662.50 278.21,661.51 280.62,660.51 283.03,659.51 285.44,658.50 287.85,657.49 290.26,656.48 292.76,655.42 295.41,654.28 298.17,653.09 300.97,651.87 303.77,650.63 306.53,649.42 309.18,648.24 311.68,647.13 313.98,646.11 316.03,645.20 317.78,644.42 319.18,643.81" fill="none" stroke="#111" stroke-width="1.25" stroke-linejoin="round" stroke-linecap="round"/>
<line x1="203.50" y1="685.80" x2="319.40" y2="685.80" stroke="#111" stroke-width="1.9"/>
<line x1="232.42" y1="660.10" x2="232.42" y2="680.37" stroke="#1e1e1e" stroke-width="1.1"/>
<line x1="228.22" y1="660.10" x2="236.62" y2="660.10" stroke="#1e1e1e" stroke-width="1.1"/>
<line x1="228.22" y1="680.37" x2="236.62" y2="680.37" stroke="#1e1e1e" stroke-width="1.1"/>
<line x1="232.42" y1="662.09" x2="232.42" y2="680.37" stroke="#1e1e1e" stroke-width="1.1"/>
<line x1="228.22" y1="662.09" x2="236.62" y2="662.09" stroke="#1e1e1e" stroke-width="1.1"/>
<line x1="228.22" y1="680.37" x2="236.62" y2="680.37" stroke="#1e1e1e" stroke-width="1.1"/>
<line x1="261.34" y1="576.48" x2="261.34" y2="609.42" stroke="#1e1e1e" stroke-width="1.1"/>
<line x1="257.14" y1="576.48" x2="265.54" y2="576.48" stroke="#1e1e1e" stroke-width="1.1"/>
<line x1="257.14" y1="609.42" x2="265.54" y2="609.42" stroke="#1e1e1e" stroke-width="1.1"/>
<line x1="319.18" y1="564.53" x2="319.18" y2="576.48" stroke="#1e1e1e" stroke-width="1.1"/>
<line x1="314.98" y1="564.53" x2="323.38" y2="564.53" stroke="#1e1e1e" stroke-width="1.1"/>
<line x1="314.98" y1="576.48" x2="323.38" y2="576.48" stroke="#1e1e1e" stroke-width="1.1"/>
<line x1="261.34" y1="649.60" x2="261.34" y2="675.48" stroke="#1e1e1e" stroke-width="1.1"/>
<line x1="257.14" y1="649.60" x2="265.54" y2="649.60" stroke="#1e1e1e" stroke-width="1.1"/>
<line x1="257.14" y1="675.48" x2="265.54" y2="675.48" stroke="#1e1e1e" stroke-width="1.1"/>
<line x1="261.34" y1="651.95" x2="261.34" y2="677.65" stroke="#1e1e1e" stroke-width="1.1"/>
<line x1="257.14" y1="651.95" x2="265.54" y2="651.95" stroke="#1e1e1e" stroke-width="1.1"/>
<line x1="257.14" y1="677.65" x2="265.54" y2="677.65" stroke="#1e1e1e" stroke-width="1.1"/>
<line x1="319.18" y1="626.61" x2="319.18" y2="658.11" stroke="#1e1e1e" stroke-width="1.1"/>
<line x1="314.98" y1="626.61" x2="323.38" y2="626.61" stroke="#1e1e1e" stroke-width="1.1"/>
<line x1="314.98" y1="658.11" x2="323.38" y2="658.11" stroke="#1e1e1e" stroke-width="1.1"/>
<line x1="319.18" y1="628.60" x2="319.18" y2="663.90" stroke="#1e1e1e" stroke-width="1.1"/>
<line x1="314.98" y1="628.60" x2="323.38" y2="628.60" stroke="#1e1e1e" stroke-width="1.1"/>
<line x1="314.98" y1="663.90" x2="323.38" y2="663.90" stroke="#1e1e1e" stroke-width="1.1"/>
<path d="M203.50,680.80 L208.50,685.80 L203.50,690.80 L198.50,685.80 Z" fill="#fff" stroke="#6aa84f" stroke-width="1.4"/>
<path d="M213.14,680.80 L218.14,685.80 L213.14,690.80 L208.14,685.80 Z" fill="#fff" stroke="#6aa84f" stroke-width="1.4"/>
<path d="M232.42,680.80 L237.42,685.80 L232.42,690.80 L227.42,685.80 Z" fill="#fff" stroke="#6aa84f" stroke-width="1.4"/>
<path d="M261.34,680.80 L266.34,685.80 L261.34,690.80 L256.34,685.80 Z" fill="#fff" stroke="#6aa84f" stroke-width="1.4"/>
<path d="M319.18,680.80 L324.18,685.80 L319.18,690.80 L314.18,685.80 Z" fill="#fff" stroke="#6aa84f" stroke-width="1.4"/>
<rect x="199.80" y="682.10" width="7.4" height="7.4" fill="#fff" stroke="#8a64a6" stroke-width="1.2"/>
<rect x="209.44" y="680.29" width="7.4" height="7.4" fill="#fff" stroke="#8a64a6" stroke-width="1.2"/>
<rect x="228.72" y="673.95" width="7.4" height="7.4" fill="#fff" stroke="#8a64a6" stroke-width="1.2"/>
<rect x="257.64" y="664.00" width="7.4" height="7.4" fill="#fff" stroke="#8a64a6" stroke-width="1.2"/>
<rect x="315.48" y="645.36" width="7.4" height="7.4" fill="#fff" stroke="#8a64a6" stroke-width="1.2"/>
<path d="M256.54,591.55 L266.14,591.55 L261.34,583.48 Z" fill="#fff" stroke="#b83446" stroke-width="1.2" stroke-linejoin="miter"/>
<path d="M314.38,574.72 L323.98,574.72 L319.18,566.65 Z" fill="#fff" stroke="#b83446" stroke-width="1.2" stroke-linejoin="miter"/>
<path d="M208.24,673.00 L218.04,673.00 L213.14,681.23 Z" fill="#fff" stroke="#4d6fa8" stroke-width="1.2" stroke-linejoin="miter"/>
<path d="M227.52,661.41 L237.32,661.41 L232.42,669.64 Z" fill="#fff" stroke="#4d6fa8" stroke-width="1.2" stroke-linejoin="miter"/>
<path d="M256.44,591.91 L266.24,591.91 L261.34,600.14 Z" fill="#fff" stroke="#4d6fa8" stroke-width="1.2" stroke-linejoin="miter"/>
<path d="M314.28,563.67 L324.08,563.67 L319.18,571.90 Z" fill="#fff" stroke="#4d6fa8" stroke-width="1.2" stroke-linejoin="miter"/>
<line x1="319.18" y1="566.34" x2="319.18" y2="576.48" stroke="#1e1e1e" stroke-width="1.0"/>
<circle cx="203.50" cy="685.80" r="3.95" fill="#fff" stroke="#e8a13c" stroke-width="1.3"/>
<circle cx="213.14" cy="683.45" r="3.95" fill="#fff" stroke="#e8a13c" stroke-width="1.3"/>
<circle cx="232.42" cy="672.59" r="3.95" fill="#fff" stroke="#e8a13c" stroke-width="1.3"/>
<circle cx="261.34" cy="662.09" r="3.95" fill="#fff" stroke="#e8a13c" stroke-width="1.3"/>
<circle cx="319.18" cy="642.54" r="3.95" fill="#fff" stroke="#e8a13c" stroke-width="1.3"/>
<line x1="365.00" y1="560.60" x2="365.00" y2="685.60" stroke="#1a1a1a" stroke-width="1.3"/>
<line x1="364.40" y1="685.00" x2="487.00" y2="685.00" stroke="#1a1a1a" stroke-width="1.3"/>
<line x1="362.00" y1="685.00" x2="365.00" y2="685.00" stroke="#1a1a1a" stroke-width="1.2"/>
<text x="358.20" y="687.90" font-size="8.3" text-anchor="end" fill="#1a1a1a" stroke="#1a1a1a" stroke-width="0.22">0</text>
<line x1="362.00" y1="648.80" x2="365.00" y2="648.80" stroke="#1a1a1a" stroke-width="1.2"/>
<text x="358.20" y="651.70" font-size="8.3" text-anchor="end" fill="#1a1a1a" stroke="#1a1a1a" stroke-width="0.22">20</text>
<line x1="362.00" y1="612.60" x2="365.00" y2="612.60" stroke="#1a1a1a" stroke-width="1.2"/>
<text x="358.20" y="615.50" font-size="8.3" text-anchor="end" fill="#1a1a1a" stroke="#1a1a1a" stroke-width="0.22">40</text>
<line x1="362.00" y1="576.40" x2="365.00" y2="576.40" stroke="#1a1a1a" stroke-width="1.2"/>
<text x="358.20" y="579.30" font-size="8.3" text-anchor="end" fill="#1a1a1a" stroke="#1a1a1a" stroke-width="0.22">60</text>
<text x="365.00" y="698.20" font-size="8.3" text-anchor="middle" fill="#1a1a1a" stroke="#1a1a1a" stroke-width="0.22">0</text>
<line x1="403.70" y1="685.00" x2="403.70" y2="688.00" stroke="#1a1a1a" stroke-width="1.2"/>
<text x="403.70" y="698.20" font-size="8.3" text-anchor="middle" fill="#1a1a1a" stroke="#1a1a1a" stroke-width="0.22">20</text>
<line x1="442.40" y1="685.00" x2="442.40" y2="688.00" stroke="#1a1a1a" stroke-width="1.2"/>
<text x="442.40" y="698.20" font-size="8.3" text-anchor="middle" fill="#1a1a1a" stroke="#1a1a1a" stroke-width="0.22">40</text>
<line x1="481.10" y1="685.00" x2="481.10" y2="688.00" stroke="#1a1a1a" stroke-width="1.2"/>
<text x="481.10" y="698.20" font-size="8.3" text-anchor="middle" fill="#1a1a1a" stroke="#1a1a1a" stroke-width="0.22">60</text>
<text x="387.30" y="553.90" font-size="10.7" textLength="78.30" lengthAdjust="spacingAndGlyphs" fill="#1a1a1a" stroke="#1a1a1a" stroke-width="0.22">+ Polyphosphate</text>
<text x="400.20" y="712.40" font-size="10.6" textLength="49.00" lengthAdjust="spacingAndGlyphs" fill="#1a1a1a" stroke="#1a1a1a" stroke-width="0.22">Time (min)</text>
<polyline points="365.00,685.00 365.29,684.87 365.65,684.71 366.09,684.52 366.58,684.31 367.11,684.08 367.66,683.83 368.23,683.58 368.80,683.32 369.35,683.05 369.88,682.79 370.37,682.53 370.81,682.28 371.19,682.05 371.54,681.81 371.86,681.57 372.17,681.33 372.46,681.09 372.74,680.85 373.02,680.60 373.31,680.34 373.62,680.07 373.94,679.80 374.29,679.51 374.68,679.21 375.09,678.90 375.52,678.59 375.97,678.27 376.43,677.95 376.91,677.63 377.40,677.28 377.89,676.93 378.40,676.56 378.92,676.17 379.43,675.76 379.96,675.33 380.48,674.86 381.01,674.38 381.55,673.88 382.11,673.37 382.67,672.83 383.23,672.28 383.81,671.71 384.38,671.11 384.96,670.50 385.54,669.86 386.11,669.20 386.69,668.52 387.25,667.80 387.82,667.08 388.39,666.33 388.96,665.58 389.53,664.80 390.10,664.00 390.68,663.18 391.24,662.32 391.81,661.44 392.37,660.51 392.93,659.55 393.48,658.54 394.02,657.49 394.55,656.42 395.05,655.36 395.53,654.29 396.00,653.20 396.46,652.07 396.93,650.89 397.41,649.65 397.90,648.32 398.42,646.90 398.98,645.37 399.57,643.72 400.22,641.92 400.91,639.94 401.65,637.75 402.43,635.40 403.23,632.92 404.07,630.34 404.92,627.70 405.79,625.04 406.66,622.39 407.53,619.78 408.40,617.26 409.25,614.85 410.09,612.60 410.93,610.42 411.80,608.24 412.69,606.07 413.59,603.92 414.49,601.82 415.38,599.78 416.25,597.83 417.09,595.98 417.90,594.25 418.65,592.66 419.33,591.23 419.95,589.98 420.47,588.93 420.89,588.11 421.22,587.48 421.49,587.00 421.73,586.64 421.94,586.37 422.15,586.15 422.39,585.95 422.68,585.75 423.03,585.49 423.47,585.17 424.02,584.73 424.66,584.20 425.36,583.65 426.12,583.07 426.92,582.48 427.77,581.87 428.66,581.26 429.59,580.66 430.55,580.05 431.55,579.47 432.56,578.90 433.60,578.36 434.66,577.85 435.75,577.36 436.90,576.88 438.09,576.41 439.32,575.95 440.58,575.51 441.86,575.08 443.15,574.67 444.45,574.27 445.75,573.91 447.04,573.56 448.31,573.25 449.56,572.96 450.79,572.71 452.00,572.49 453.20,572.30 454.40,572.14 455.59,572.00 456.79,571.87 458.00,571.77 459.21,571.67 460.44,571.59 461.69,571.50 462.97,571.42 464.27,571.33 465.65,571.25 467.14,571.17 468.72,571.11 470.34,571.05 471.98,571.00 473.60,570.96 475.17,570.92 476.66,570.89 478.03,570.86 479.24,570.84 480.28,570.81 481.10,570.79" fill="none" stroke="#111" stroke-width="1.35" stroke-linejoin="round" stroke-linecap="round"/>
<polyline points="365.00,685.00 365.29,684.92 365.65,684.81 366.09,684.70 366.58,684.56 367.11,684.42 367.66,684.26 368.23,684.10 368.80,683.93 369.35,683.75 369.88,683.56 370.37,683.38 370.81,683.19 371.19,683.00 371.54,682.80 371.86,682.60 372.17,682.39 372.46,682.18 372.74,681.96 373.02,681.73 373.31,681.49 373.62,681.25 373.94,681.00 374.29,680.74 374.68,680.48 375.08,680.21 375.51,679.95 375.94,679.69 376.40,679.42 376.86,679.15 377.34,678.87 377.83,678.57 378.33,678.25 378.85,677.90 379.38,677.53 379.92,677.12 380.48,676.67 381.06,676.19 381.67,675.69 382.30,675.16 382.95,674.60 383.62,674.02 384.29,673.42 384.97,672.79 385.64,672.13 386.31,671.45 386.96,670.74 387.60,670.01 388.22,669.25 388.82,668.47 389.41,667.67 389.99,666.85 390.56,666.01 391.13,665.14 391.69,664.24 392.25,663.32 392.80,662.36 393.35,661.38 393.90,660.36 394.44,659.30 394.99,658.21 395.53,657.12 396.04,656.04 396.53,654.96 397.02,653.87 397.50,652.74 397.99,651.57 398.49,650.34 399.01,649.02 399.55,647.61 400.12,646.09 400.73,644.44 401.38,642.65 402.08,640.66 402.82,638.48 403.60,636.13 404.41,633.64 405.24,631.06 406.09,628.43 406.96,625.76 407.83,623.11 408.70,620.51 409.56,617.98 410.41,615.58 411.25,613.32 412.09,611.15 412.96,608.96 413.85,606.79 414.76,604.64 415.66,602.54 416.56,600.51 417.43,598.56 418.27,596.71 419.07,594.98 419.82,593.39 420.50,591.95 421.12,590.70 421.63,589.66 422.03,588.84 422.35,588.20 422.60,587.72 422.81,587.36 423.00,587.09 423.20,586.87 423.42,586.68 423.68,586.47 424.02,586.22 424.44,585.89 424.99,585.45 425.62,584.93 426.32,584.38 427.08,583.80 427.89,583.21 428.74,582.61 429.64,582.00 430.58,581.39 431.54,580.79 432.54,580.20 433.55,579.63 434.58,579.09 435.63,578.57 436.70,578.08 437.82,577.58 438.98,577.10 440.18,576.63 441.40,576.17 442.64,575.72 443.90,575.29 445.16,574.88 446.42,574.50 447.68,574.14 448.92,573.81 450.14,573.50 451.34,573.24 452.54,573.00 453.72,572.79 454.91,572.61 456.09,572.45 457.28,572.32 458.47,572.19 459.67,572.08 460.89,571.98 462.12,571.88 463.38,571.79 464.65,571.69 466.01,571.60 467.47,571.52 469.01,571.46 470.60,571.40 472.20,571.35 473.78,571.31 475.31,571.27 476.76,571.24 478.10,571.22 479.29,571.20 480.30,571.17 481.10,571.15" fill="none" stroke="#111" stroke-width="1.35" stroke-linejoin="round" stroke-linecap="round"/>
<polyline points="365.20,685.00 365.23,684.84 365.26,684.65 365.30,684.44 365.34,684.20 365.39,683.94 365.44,683.66 365.49,683.35 365.55,683.02 365.61,682.67 365.67,682.30 365.73,681.91 365.80,681.50 365.87,681.09 365.94,680.69 366.02,680.29 366.10,679.87 366.18,679.43 366.26,678.97 366.35,678.46 366.44,677.91 366.53,677.29 366.62,676.61 366.71,675.85 366.80,675.00 366.89,674.06 366.99,673.05 367.08,671.96 367.18,670.81 367.28,669.61 367.38,668.34 367.48,667.03 367.58,665.69 367.68,664.30 367.79,662.89 367.89,661.45 368.00,660.00 368.11,658.51 368.23,656.96 368.35,655.35 368.47,653.70 368.59,652.02 368.71,650.31 368.83,648.59 368.96,646.85 369.07,645.12 369.19,643.39 369.30,641.68 369.40,640.00 369.50,638.33 369.59,636.67 369.68,635.00 369.77,633.33 369.86,631.67 369.94,630.00 370.02,628.33 370.10,626.67 370.17,625.00 370.25,623.33 370.32,621.67 370.40,620.00 370.47,618.32 370.54,616.61 370.61,614.88 370.67,613.15 370.74,611.41 370.80,609.69 370.86,607.98 370.93,606.30 370.99,604.65 371.06,603.04 371.13,601.49 371.20,600.00 371.28,598.57 371.35,597.18 371.43,595.83 371.51,594.52 371.60,593.24 371.68,592.00 371.77,590.78 371.85,589.59 371.94,588.42 372.03,587.27 372.11,586.13 372.20,585.00 372.29,583.88 372.38,582.77 372.48,581.67 372.57,580.59 372.67,579.53 372.77,578.50 372.86,577.49 372.96,576.52 373.05,575.58 373.14,574.68 373.22,573.82 373.30,573.00 373.37,572.22 373.45,571.46 373.52,570.73 373.59,570.04 373.66,569.37 373.72,568.75 373.78,568.17 373.83,567.63 373.88,567.14 373.93,566.70 373.97,566.32 374.00,566.00" fill="none" stroke="#111" stroke-width="1.2" stroke-linejoin="round" stroke-linecap="round"/>
<polyline points="366.00,685.00 366.03,684.84 366.05,684.65 366.08,684.44 366.11,684.20 366.15,683.94 366.19,683.66 366.23,683.35 366.29,683.02 366.35,682.67 366.42,682.30 366.51,681.91 366.60,681.50 366.71,681.09 366.84,680.69 366.98,680.29 367.13,679.87 367.30,679.43 367.46,678.97 367.63,678.46 367.80,677.91 367.96,677.29 368.12,676.61 368.27,675.85 368.40,675.00 368.52,674.06 368.63,673.05 368.74,671.96 368.84,670.81 368.93,669.61 369.03,668.34 369.12,667.03 369.21,665.69 369.30,664.30 369.40,662.89 369.49,661.45 369.60,660.00 369.71,658.51 369.83,656.96 369.95,655.35 370.07,653.70 370.19,652.02 370.31,650.31 370.43,648.59 370.56,646.85 370.67,645.12 370.79,643.39 370.90,641.68 371.00,640.00 371.10,638.33 371.19,636.67 371.28,635.00 371.37,633.33 371.46,631.67 371.54,630.00 371.62,628.33 371.70,626.67 371.77,625.00 371.85,623.33 371.92,621.67 372.00,620.00 372.07,618.32 372.14,616.61 372.21,614.88 372.27,613.15 372.34,611.41 372.40,609.69 372.46,607.98 372.53,606.30 372.59,604.65 372.66,603.04 372.73,601.49 372.80,600.00 372.88,598.57 372.95,597.18 373.03,595.83 373.11,594.52 373.20,593.24 373.28,592.00 373.37,590.78 373.45,589.59 373.54,588.42 373.63,587.27 373.71,586.13 373.80,585.00 373.89,583.88 373.98,582.77 374.08,581.67 374.17,580.59 374.27,579.53 374.37,578.50 374.46,577.49 374.56,576.52 374.65,575.58 374.74,574.68 374.82,573.82 374.90,573.00 374.97,572.22 375.05,571.46 375.12,570.73 375.19,570.04 375.26,569.37 375.32,568.75 375.38,568.17 375.43,567.63 375.48,567.14 375.53,566.70 375.57,566.32 375.60,566.00" fill="none" stroke="#111" stroke-width="1.2" stroke-linejoin="round" stroke-linecap="round"/>
<line x1="365.00" y1="685.00" x2="481.00" y2="685.00" stroke="#111" stroke-width="1.9"/>
<line x1="370.10" y1="596.40" x2="370.10" y2="659.70" stroke="#1e1e1e" stroke-width="1.0"/>
<line x1="365.80" y1="596.40" x2="374.40" y2="596.40" stroke="#1e1e1e" stroke-width="1.0"/>
<line x1="365.80" y1="659.70" x2="374.40" y2="659.70" stroke="#1e1e1e" stroke-width="1.0"/>
<line x1="374.30" y1="572.00" x2="374.30" y2="572.00" stroke="#1e1e1e" stroke-width="1.0"/>
<line x1="370.00" y1="572.00" x2="378.60" y2="572.00" stroke="#1e1e1e" stroke-width="1.0"/>
<line x1="370.00" y1="572.00" x2="378.60" y2="572.00" stroke="#1e1e1e" stroke-width="1.0"/>
<line x1="374.30" y1="574.50" x2="374.30" y2="574.50" stroke="#1e1e1e" stroke-width="1.0"/>
<line x1="370.00" y1="574.50" x2="378.60" y2="574.50" stroke="#1e1e1e" stroke-width="1.0"/>
<line x1="370.00" y1="574.50" x2="378.60" y2="574.50" stroke="#1e1e1e" stroke-width="1.0"/>
<line x1="374.68" y1="672.33" x2="374.68" y2="672.33" stroke="#1e1e1e" stroke-width="1.0"/>
<line x1="370.68" y1="672.33" x2="378.68" y2="672.33" stroke="#1e1e1e" stroke-width="1.0"/>
<line x1="370.68" y1="672.33" x2="378.68" y2="672.33" stroke="#1e1e1e" stroke-width="1.0"/>
<line x1="374.68" y1="674.14" x2="374.68" y2="674.14" stroke="#1e1e1e" stroke-width="1.0"/>
<line x1="370.68" y1="674.14" x2="378.68" y2="674.14" stroke="#1e1e1e" stroke-width="1.0"/>
<line x1="370.68" y1="674.14" x2="378.68" y2="674.14" stroke="#1e1e1e" stroke-width="1.0"/>
<line x1="394.02" y1="653.10" x2="394.02" y2="669.00" stroke="#1e1e1e" stroke-width="1.0"/>
<line x1="390.02" y1="653.10" x2="398.02" y2="653.10" stroke="#1e1e1e" stroke-width="1.0"/>
<line x1="390.02" y1="669.00" x2="398.02" y2="669.00" stroke="#1e1e1e" stroke-width="1.0"/>
<line x1="394.02" y1="655.20" x2="394.02" y2="655.20" stroke="#1e1e1e" stroke-width="1.0"/>
<line x1="390.02" y1="655.20" x2="398.02" y2="655.20" stroke="#1e1e1e" stroke-width="1.0"/>
<line x1="390.02" y1="655.20" x2="398.02" y2="655.20" stroke="#1e1e1e" stroke-width="1.0"/>
<line x1="423.05" y1="576.50" x2="423.05" y2="599.10" stroke="#1e1e1e" stroke-width="1.0"/>
<line x1="419.05" y1="576.50" x2="427.05" y2="576.50" stroke="#1e1e1e" stroke-width="1.0"/>
<line x1="419.05" y1="599.10" x2="427.05" y2="599.10" stroke="#1e1e1e" stroke-width="1.0"/>
<line x1="423.05" y1="580.10" x2="423.05" y2="592.20" stroke="#1e1e1e" stroke-width="1.0"/>
<line x1="419.05" y1="580.10" x2="427.05" y2="580.10" stroke="#1e1e1e" stroke-width="1.0"/>
<line x1="419.05" y1="592.20" x2="427.05" y2="592.20" stroke="#1e1e1e" stroke-width="1.0"/>
<line x1="481.10" y1="567.40" x2="481.10" y2="578.60" stroke="#1e1e1e" stroke-width="1.0"/>
<line x1="477.10" y1="567.40" x2="485.10" y2="567.40" stroke="#1e1e1e" stroke-width="1.0"/>
<line x1="477.10" y1="578.60" x2="485.10" y2="578.60" stroke="#1e1e1e" stroke-width="1.0"/>
<line x1="481.10" y1="568.60" x2="481.10" y2="568.60" stroke="#1e1e1e" stroke-width="1.0"/>
<line x1="477.10" y1="568.60" x2="485.10" y2="568.60" stroke="#1e1e1e" stroke-width="1.0"/>
<line x1="477.10" y1="568.60" x2="485.10" y2="568.60" stroke="#1e1e1e" stroke-width="1.0"/>
<path d="M365.00,680.00 L370.00,685.00 L365.00,690.00 L360.00,685.00 Z" fill="#fff" stroke="#6aa84f" stroke-width="1.4"/>
<path d="M374.68,680.00 L379.68,685.00 L374.68,690.00 L369.68,685.00 Z" fill="#fff" stroke="#6aa84f" stroke-width="1.4"/>
<path d="M394.02,680.00 L399.02,685.00 L394.02,690.00 L389.02,685.00 Z" fill="#fff" stroke="#6aa84f" stroke-width="1.4"/>
<path d="M423.05,680.00 L428.05,685.00 L423.05,690.00 L418.05,685.00 Z" fill="#fff" stroke="#6aa84f" stroke-width="1.4"/>
<path d="M481.10,680.00 L486.10,685.00 L481.10,690.00 L476.10,685.00 Z" fill="#fff" stroke="#6aa84f" stroke-width="1.4"/>
<path d="M370.18,671.08 L379.18,671.08 L374.68,678.64 Z" fill="#fff" stroke="#4d6fa8" stroke-width="1.2" stroke-linejoin="miter"/>
<path d="M389.52,660.22 L398.52,660.22 L394.02,667.78 Z" fill="#fff" stroke="#4d6fa8" stroke-width="1.2" stroke-linejoin="miter"/>
<path d="M418.55,584.38 L427.55,584.38 L423.05,591.94 Z" fill="#fff" stroke="#4d6fa8" stroke-width="1.2" stroke-linejoin="miter"/>
<path d="M476.60,570.09 L485.60,570.09 L481.10,577.65 Z" fill="#fff" stroke="#4d6fa8" stroke-width="1.2" stroke-linejoin="miter"/>
<path d="M370.18,681.18 L379.18,681.18 L374.68,673.62 Z" fill="#fff" stroke="#b83446" stroke-width="1.3" stroke-linejoin="miter"/>
<path d="M389.52,663.44 L398.52,663.44 L394.02,655.88 Z" fill="#fff" stroke="#b83446" stroke-width="1.3" stroke-linejoin="miter"/>
<path d="M418.55,590.32 L427.55,590.32 L423.05,582.76 Z" fill="#fff" stroke="#b83446" stroke-width="1.3" stroke-linejoin="miter"/>
<path d="M476.60,575.65 L485.60,575.65 L481.10,568.10 Z" fill="#fff" stroke="#b83446" stroke-width="1.3" stroke-linejoin="miter"/>
<rect x="360.70" y="679.30" width="7.8" height="7.8" fill="#fff" stroke="#8a64a6" stroke-width="1.2"/>
<rect x="361.00" y="674.70" width="7.8" height="7.8" fill="#fff" stroke="#8a64a6" stroke-width="1.2"/>
<rect x="365.30" y="610.60" width="7.8" height="7.8" fill="#fff" stroke="#8a64a6" stroke-width="1.2"/>
<rect x="370.60" y="558.10" width="7.8" height="7.8" fill="#fff" stroke="#8a64a6" stroke-width="1.2"/>
<circle cx="364.10" cy="685.60" r="3.95" fill="#fff" stroke="#e8a13c" stroke-width="1.3"/>
<circle cx="366.30" cy="680.70" r="3.95" fill="#fff" stroke="#e8a13c" stroke-width="1.3"/>
<circle cx="370.20" cy="635.20" r="3.95" fill="#fff" stroke="#e8a13c" stroke-width="1.3"/>
<circle cx="374.60" cy="566.60" r="3.95" fill="#fff" stroke="#e8a13c" stroke-width="1.3"/>
<rect x="0" y="0" width="1.7" height="725" fill="#4e4e4e"/>
<rect x="0" y="0" width="520" height="1.6" fill="#4e4e4e"/>
<rect x="518.2" y="0" width="1.8" height="725" fill="#505050"/>
<rect x="0" y="723.8" width="520" height="1.2" fill="#1c1c1c"/></svg></body></html>
